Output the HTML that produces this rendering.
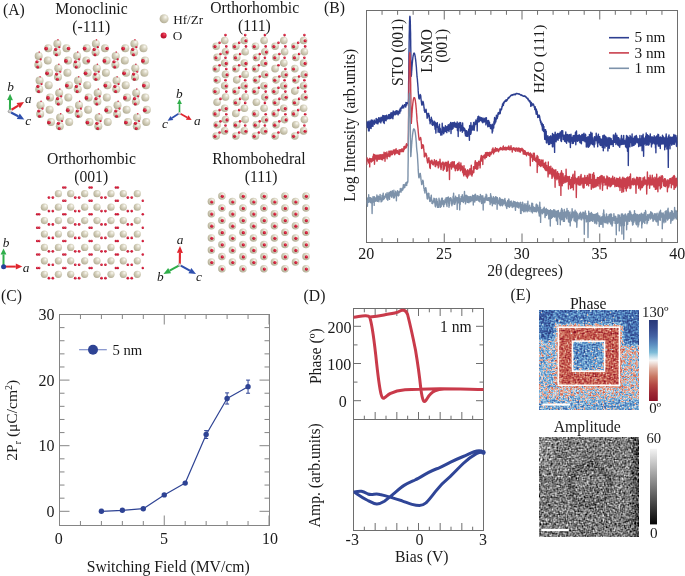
<!DOCTYPE html>
<html><head><meta charset="utf-8"><style>
html,body{margin:0;padding:0;background:#fff;overflow:hidden;}
svg{display:block;will-change:transform;}
text{font-family:"Liberation Serif",serif;fill:#1a1a1a;}
</style></head><body>
<svg width="685" height="576" viewBox="0 0 685 576">
<rect width="685" height="576" fill="#fff"/>
<defs>
<radialGradient id="hf" cx="0.62" cy="0.36" r="0.72" fx="0.66" fy="0.3">
<stop offset="0" stop-color="#fbfaf4"/><stop offset="0.35" stop-color="#dcd8c6"/><stop offset="0.8" stop-color="#bdb8a0"/><stop offset="1" stop-color="#a9a48c"/>
</radialGradient>
<radialGradient id="ox" cx="0.6" cy="0.38" r="0.7" fx="0.65" fy="0.3">
<stop offset="0" stop-color="#ee5468"/><stop offset="0.45" stop-color="#d41c3a"/><stop offset="1" stop-color="#a80f28"/>
</radialGradient>
<radialGradient id="og" cx="0.6" cy="0.38" r="0.7">
<stop offset="0" stop-color="#e8e8e8"/><stop offset="1" stop-color="#909090"/>
</radialGradient>
</defs>
<text x="3.0" y="14.7" font-size="15.7">(A)</text>
<text x="324.0" y="12.5" font-size="15.7">(B)</text>
<text x="1.1" y="300.8" font-size="15.7">(C)</text>
<text x="303.6" y="300.5" font-size="15.7">(D)</text>
<text x="510.6" y="300.2" font-size="15.7">(E)</text>
<text x="91.5" y="13.6" font-size="15.7" text-anchor="middle">Monoclinic</text>
<text x="91.3" y="31.6" font-size="15.7" text-anchor="middle">(-111)</text>
<text x="254.7" y="13.4" font-size="15.7" text-anchor="middle">Orthorhombic</text>
<text x="254.4" y="31.4" font-size="15.7" text-anchor="middle">(111)</text>
<text x="91.5" y="163.7" font-size="15.7" text-anchor="middle">Orthorhombic</text>
<text x="91.2" y="181.7" font-size="15.7" text-anchor="middle">(001)</text>
<text x="258.9" y="164.0" font-size="15.7" text-anchor="middle">Rhombohedral</text>
<text x="261.1" y="181.8" font-size="15.7" text-anchor="middle">(111)</text>
<text x="173.2" y="24.0" font-size="13.2">Hf/Zr</text>
<text x="172.8" y="39.9" font-size="13.2">O</text>
<circle cx="164.10" cy="18.80" r="4.5" fill="url(#hf)"/>
<circle cx="163.60" cy="35.40" r="3.0" fill="url(#ox)"/>
<g><circle cx="57.37" cy="43.63" r="4.0" fill="url(#hf)"/><circle cx="95.88" cy="43.63" r="4.0" fill="url(#hf)"/><circle cx="134.38" cy="43.63" r="4.0" fill="url(#hf)"/><circle cx="48.25" cy="48.21" r="4.0" fill="url(#hf)"/><circle cx="66.50" cy="48.21" r="4.0" fill="url(#hf)"/><circle cx="86.75" cy="48.21" r="4.0" fill="url(#hf)"/><circle cx="105.00" cy="48.21" r="4.0" fill="url(#hf)"/><circle cx="125.26" cy="48.21" r="4.0" fill="url(#hf)"/><circle cx="143.50" cy="48.21" r="4.0" fill="url(#hf)"/><circle cx="57.07" cy="52.33" r="4.0" fill="url(#hf)"/><circle cx="95.58" cy="52.33" r="4.0" fill="url(#hf)"/><circle cx="134.08" cy="52.33" r="4.0" fill="url(#hf)"/><circle cx="38.67" cy="55.94" r="4.0" fill="url(#hf)"/><circle cx="77.17" cy="55.94" r="4.0" fill="url(#hf)"/><circle cx="115.68" cy="55.94" r="4.0" fill="url(#hf)"/><circle cx="47.79" cy="60.53" r="4.0" fill="url(#hf)"/><circle cx="68.05" cy="60.53" r="4.0" fill="url(#hf)"/><circle cx="86.30" cy="60.53" r="4.0" fill="url(#hf)"/><circle cx="106.55" cy="60.53" r="4.0" fill="url(#hf)"/><circle cx="124.80" cy="60.53" r="4.0" fill="url(#hf)"/><circle cx="145.05" cy="60.53" r="4.0" fill="url(#hf)"/><circle cx="38.37" cy="64.64" r="4.0" fill="url(#hf)"/><circle cx="76.87" cy="64.64" r="4.0" fill="url(#hf)"/><circle cx="115.38" cy="64.64" r="4.0" fill="url(#hf)"/><circle cx="58.28" cy="68.26" r="4.0" fill="url(#hf)"/><circle cx="96.79" cy="68.26" r="4.0" fill="url(#hf)"/><circle cx="135.29" cy="68.26" r="4.0" fill="url(#hf)"/><circle cx="49.16" cy="72.84" r="4.0" fill="url(#hf)"/><circle cx="67.41" cy="72.84" r="4.0" fill="url(#hf)"/><circle cx="87.66" cy="72.84" r="4.0" fill="url(#hf)"/><circle cx="105.91" cy="72.84" r="4.0" fill="url(#hf)"/><circle cx="126.17" cy="72.84" r="4.0" fill="url(#hf)"/><circle cx="144.42" cy="72.84" r="4.0" fill="url(#hf)"/><circle cx="57.98" cy="76.96" r="4.0" fill="url(#hf)"/><circle cx="96.49" cy="76.96" r="4.0" fill="url(#hf)"/><circle cx="134.99" cy="76.96" r="4.0" fill="url(#hf)"/><circle cx="39.58" cy="80.58" r="4.0" fill="url(#hf)"/><circle cx="78.08" cy="80.58" r="4.0" fill="url(#hf)"/><circle cx="116.59" cy="80.58" r="4.0" fill="url(#hf)"/><circle cx="48.70" cy="85.16" r="4.0" fill="url(#hf)"/><circle cx="68.96" cy="85.16" r="4.0" fill="url(#hf)"/><circle cx="87.21" cy="85.16" r="4.0" fill="url(#hf)"/><circle cx="107.46" cy="85.16" r="4.0" fill="url(#hf)"/><circle cx="125.71" cy="85.16" r="4.0" fill="url(#hf)"/><circle cx="145.97" cy="85.16" r="4.0" fill="url(#hf)"/><circle cx="39.28" cy="89.28" r="4.0" fill="url(#hf)"/><circle cx="77.78" cy="89.28" r="4.0" fill="url(#hf)"/><circle cx="116.29" cy="89.28" r="4.0" fill="url(#hf)"/><circle cx="59.20" cy="92.90" r="4.0" fill="url(#hf)"/><circle cx="97.70" cy="92.90" r="4.0" fill="url(#hf)"/><circle cx="136.20" cy="92.90" r="4.0" fill="url(#hf)"/><circle cx="50.07" cy="97.48" r="4.0" fill="url(#hf)"/><circle cx="68.32" cy="97.48" r="4.0" fill="url(#hf)"/><circle cx="88.58" cy="97.48" r="4.0" fill="url(#hf)"/><circle cx="106.82" cy="97.48" r="4.0" fill="url(#hf)"/><circle cx="127.08" cy="97.48" r="4.0" fill="url(#hf)"/><circle cx="145.33" cy="97.48" r="4.0" fill="url(#hf)"/><circle cx="58.90" cy="101.60" r="4.0" fill="url(#hf)"/><circle cx="97.40" cy="101.60" r="4.0" fill="url(#hf)"/><circle cx="135.90" cy="101.60" r="4.0" fill="url(#hf)"/><circle cx="40.49" cy="105.21" r="4.0" fill="url(#hf)"/><circle cx="79.00" cy="105.21" r="4.0" fill="url(#hf)"/><circle cx="117.50" cy="105.21" r="4.0" fill="url(#hf)"/><circle cx="49.62" cy="109.80" r="4.0" fill="url(#hf)"/><circle cx="69.87" cy="109.80" r="4.0" fill="url(#hf)"/><circle cx="88.12" cy="109.80" r="4.0" fill="url(#hf)"/><circle cx="108.38" cy="109.80" r="4.0" fill="url(#hf)"/><circle cx="126.62" cy="109.80" r="4.0" fill="url(#hf)"/><circle cx="146.88" cy="109.80" r="4.0" fill="url(#hf)"/><circle cx="40.19" cy="113.91" r="4.0" fill="url(#hf)"/><circle cx="78.70" cy="113.91" r="4.0" fill="url(#hf)"/><circle cx="117.20" cy="113.91" r="4.0" fill="url(#hf)"/><circle cx="60.11" cy="117.53" r="4.0" fill="url(#hf)"/><circle cx="98.61" cy="117.53" r="4.0" fill="url(#hf)"/><circle cx="137.12" cy="117.53" r="4.0" fill="url(#hf)"/><circle cx="50.99" cy="122.11" r="4.0" fill="url(#hf)"/><circle cx="69.23" cy="122.11" r="4.0" fill="url(#hf)"/><circle cx="89.49" cy="122.11" r="4.0" fill="url(#hf)"/><circle cx="107.74" cy="122.11" r="4.0" fill="url(#hf)"/><circle cx="127.99" cy="122.11" r="4.0" fill="url(#hf)"/><circle cx="146.24" cy="122.11" r="4.0" fill="url(#hf)"/><circle cx="59.81" cy="126.23" r="4.0" fill="url(#hf)"/><circle cx="98.31" cy="126.23" r="4.0" fill="url(#hf)"/><circle cx="136.82" cy="126.23" r="4.0" fill="url(#hf)"/><circle cx="55.67" cy="49.43" r="1.6" fill="url(#ox)"/><circle cx="56.47" cy="54.63" r="1.5" fill="url(#ox)"/><circle cx="59.37" cy="47.13" r="1.1" fill="url(#ox)"/><circle cx="57.97" cy="39.73" r="0.75" fill="url(#ox)"/><circle cx="46.15" cy="48.61" r="1.85" fill="url(#ox)"/><circle cx="68.50" cy="48.61" r="1.75" fill="url(#ox)"/><circle cx="94.18" cy="49.43" r="1.6" fill="url(#ox)"/><circle cx="94.98" cy="54.63" r="1.5" fill="url(#ox)"/><circle cx="97.88" cy="47.13" r="1.1" fill="url(#ox)"/><circle cx="96.48" cy="39.73" r="0.75" fill="url(#ox)"/><circle cx="84.65" cy="48.61" r="1.85" fill="url(#ox)"/><circle cx="107.00" cy="48.61" r="1.75" fill="url(#ox)"/><circle cx="132.68" cy="49.43" r="1.6" fill="url(#ox)"/><circle cx="133.48" cy="54.63" r="1.5" fill="url(#ox)"/><circle cx="136.38" cy="47.13" r="1.1" fill="url(#ox)"/><circle cx="134.98" cy="39.73" r="0.75" fill="url(#ox)"/><circle cx="123.16" cy="48.61" r="1.85" fill="url(#ox)"/><circle cx="36.97" cy="61.74" r="1.6" fill="url(#ox)"/><circle cx="37.77" cy="66.94" r="1.5" fill="url(#ox)"/><circle cx="40.67" cy="59.44" r="1.1" fill="url(#ox)"/><circle cx="39.27" cy="52.04" r="0.75" fill="url(#ox)"/><circle cx="75.47" cy="61.74" r="1.6" fill="url(#ox)"/><circle cx="76.27" cy="66.94" r="1.5" fill="url(#ox)"/><circle cx="79.17" cy="59.44" r="1.1" fill="url(#ox)"/><circle cx="77.77" cy="52.04" r="0.75" fill="url(#ox)"/><circle cx="65.95" cy="60.93" r="1.85" fill="url(#ox)"/><circle cx="88.30" cy="60.93" r="1.75" fill="url(#ox)"/><circle cx="113.98" cy="61.74" r="1.6" fill="url(#ox)"/><circle cx="114.78" cy="66.94" r="1.5" fill="url(#ox)"/><circle cx="117.68" cy="59.44" r="1.1" fill="url(#ox)"/><circle cx="116.28" cy="52.04" r="0.75" fill="url(#ox)"/><circle cx="104.45" cy="60.93" r="1.85" fill="url(#ox)"/><circle cx="142.95" cy="60.93" r="1.85" fill="url(#ox)"/><circle cx="56.58" cy="74.06" r="1.6" fill="url(#ox)"/><circle cx="57.38" cy="79.26" r="1.5" fill="url(#ox)"/><circle cx="60.28" cy="71.76" r="1.1" fill="url(#ox)"/><circle cx="58.88" cy="64.36" r="0.75" fill="url(#ox)"/><circle cx="47.06" cy="73.24" r="1.85" fill="url(#ox)"/><circle cx="95.09" cy="74.06" r="1.6" fill="url(#ox)"/><circle cx="95.89" cy="79.26" r="1.5" fill="url(#ox)"/><circle cx="98.79" cy="71.76" r="1.1" fill="url(#ox)"/><circle cx="97.39" cy="64.36" r="0.75" fill="url(#ox)"/><circle cx="85.56" cy="73.24" r="1.85" fill="url(#ox)"/><circle cx="133.59" cy="74.06" r="1.6" fill="url(#ox)"/><circle cx="134.39" cy="79.26" r="1.5" fill="url(#ox)"/><circle cx="137.29" cy="71.76" r="1.1" fill="url(#ox)"/><circle cx="135.89" cy="64.36" r="0.75" fill="url(#ox)"/><circle cx="124.07" cy="73.24" r="1.85" fill="url(#ox)"/><circle cx="37.88" cy="86.38" r="1.6" fill="url(#ox)"/><circle cx="38.68" cy="91.58" r="1.5" fill="url(#ox)"/><circle cx="41.58" cy="84.08" r="1.1" fill="url(#ox)"/><circle cx="40.18" cy="76.68" r="0.75" fill="url(#ox)"/><circle cx="76.38" cy="86.38" r="1.6" fill="url(#ox)"/><circle cx="77.18" cy="91.58" r="1.5" fill="url(#ox)"/><circle cx="80.08" cy="84.08" r="1.1" fill="url(#ox)"/><circle cx="78.68" cy="76.68" r="0.75" fill="url(#ox)"/><circle cx="66.86" cy="85.56" r="1.85" fill="url(#ox)"/><circle cx="114.89" cy="86.38" r="1.6" fill="url(#ox)"/><circle cx="115.69" cy="91.58" r="1.5" fill="url(#ox)"/><circle cx="118.59" cy="84.08" r="1.1" fill="url(#ox)"/><circle cx="117.19" cy="76.68" r="0.75" fill="url(#ox)"/><circle cx="105.36" cy="85.56" r="1.85" fill="url(#ox)"/><circle cx="143.87" cy="85.56" r="1.85" fill="url(#ox)"/><circle cx="57.50" cy="98.70" r="1.6" fill="url(#ox)"/><circle cx="58.30" cy="103.90" r="1.5" fill="url(#ox)"/><circle cx="61.20" cy="96.40" r="1.1" fill="url(#ox)"/><circle cx="59.80" cy="89.00" r="0.75" fill="url(#ox)"/><circle cx="47.97" cy="97.88" r="1.85" fill="url(#ox)"/><circle cx="96.00" cy="98.70" r="1.6" fill="url(#ox)"/><circle cx="96.80" cy="103.90" r="1.5" fill="url(#ox)"/><circle cx="99.70" cy="96.40" r="1.1" fill="url(#ox)"/><circle cx="98.30" cy="89.00" r="0.75" fill="url(#ox)"/><circle cx="86.48" cy="97.88" r="1.85" fill="url(#ox)"/><circle cx="134.50" cy="98.70" r="1.6" fill="url(#ox)"/><circle cx="135.30" cy="103.90" r="1.5" fill="url(#ox)"/><circle cx="138.20" cy="96.40" r="1.1" fill="url(#ox)"/><circle cx="136.80" cy="89.00" r="0.75" fill="url(#ox)"/><circle cx="124.98" cy="97.88" r="1.85" fill="url(#ox)"/><circle cx="38.79" cy="111.01" r="1.6" fill="url(#ox)"/><circle cx="39.59" cy="116.21" r="1.5" fill="url(#ox)"/><circle cx="42.49" cy="108.71" r="1.1" fill="url(#ox)"/><circle cx="41.09" cy="101.31" r="0.75" fill="url(#ox)"/><circle cx="77.30" cy="111.01" r="1.6" fill="url(#ox)"/><circle cx="78.10" cy="116.21" r="1.5" fill="url(#ox)"/><circle cx="81.00" cy="108.71" r="1.1" fill="url(#ox)"/><circle cx="79.60" cy="101.31" r="0.75" fill="url(#ox)"/><circle cx="67.77" cy="110.20" r="1.85" fill="url(#ox)"/><circle cx="115.80" cy="111.01" r="1.6" fill="url(#ox)"/><circle cx="116.60" cy="116.21" r="1.5" fill="url(#ox)"/><circle cx="119.50" cy="108.71" r="1.1" fill="url(#ox)"/><circle cx="118.10" cy="101.31" r="0.75" fill="url(#ox)"/><circle cx="106.28" cy="110.20" r="1.85" fill="url(#ox)"/><circle cx="144.78" cy="110.20" r="1.85" fill="url(#ox)"/><circle cx="58.41" cy="123.33" r="1.6" fill="url(#ox)"/><circle cx="59.21" cy="128.53" r="1.5" fill="url(#ox)"/><circle cx="62.11" cy="121.03" r="1.1" fill="url(#ox)"/><circle cx="60.71" cy="113.63" r="0.75" fill="url(#ox)"/><circle cx="48.89" cy="122.51" r="1.85" fill="url(#ox)"/><circle cx="96.91" cy="123.33" r="1.6" fill="url(#ox)"/><circle cx="97.71" cy="128.53" r="1.5" fill="url(#ox)"/><circle cx="100.61" cy="121.03" r="1.1" fill="url(#ox)"/><circle cx="99.21" cy="113.63" r="0.75" fill="url(#ox)"/><circle cx="87.39" cy="122.51" r="1.85" fill="url(#ox)"/><circle cx="135.42" cy="123.33" r="1.6" fill="url(#ox)"/><circle cx="136.22" cy="128.53" r="1.5" fill="url(#ox)"/><circle cx="139.12" cy="121.03" r="1.1" fill="url(#ox)"/><circle cx="137.72" cy="113.63" r="0.75" fill="url(#ox)"/><circle cx="125.89" cy="122.51" r="1.85" fill="url(#ox)"/></g>
<g><circle cx="216.20" cy="46.20" r="3.8" fill="url(#hf)"/><circle cx="224.70" cy="40.50" r="3.8" fill="url(#hf)"/><circle cx="217.10" cy="57.42" r="3.8" fill="url(#hf)"/><circle cx="225.50" cy="51.80" r="3.8" fill="url(#hf)"/><circle cx="216.20" cy="68.64" r="3.8" fill="url(#hf)"/><circle cx="224.70" cy="63.10" r="3.8" fill="url(#hf)"/><circle cx="217.10" cy="79.86" r="3.8" fill="url(#hf)"/><circle cx="225.50" cy="74.40" r="3.8" fill="url(#hf)"/><circle cx="216.20" cy="91.08" r="3.8" fill="url(#hf)"/><circle cx="224.70" cy="85.70" r="3.8" fill="url(#hf)"/><circle cx="217.10" cy="102.30" r="3.8" fill="url(#hf)"/><circle cx="225.50" cy="97.00" r="3.8" fill="url(#hf)"/><circle cx="216.20" cy="113.52" r="3.8" fill="url(#hf)"/><circle cx="224.70" cy="108.30" r="3.8" fill="url(#hf)"/><circle cx="217.10" cy="124.74" r="3.8" fill="url(#hf)"/><circle cx="225.50" cy="119.60" r="3.8" fill="url(#hf)"/><circle cx="216.20" cy="135.96" r="3.8" fill="url(#hf)"/><circle cx="224.70" cy="130.90" r="3.8" fill="url(#hf)"/><circle cx="235.80" cy="46.20" r="3.8" fill="url(#hf)"/><circle cx="244.40" cy="40.50" r="3.8" fill="url(#hf)"/><circle cx="236.70" cy="57.42" r="3.8" fill="url(#hf)"/><circle cx="245.20" cy="51.80" r="3.8" fill="url(#hf)"/><circle cx="235.80" cy="68.64" r="3.8" fill="url(#hf)"/><circle cx="244.40" cy="63.10" r="3.8" fill="url(#hf)"/><circle cx="236.70" cy="79.86" r="3.8" fill="url(#hf)"/><circle cx="245.20" cy="74.40" r="3.8" fill="url(#hf)"/><circle cx="235.80" cy="91.08" r="3.8" fill="url(#hf)"/><circle cx="244.40" cy="85.70" r="3.8" fill="url(#hf)"/><circle cx="236.70" cy="102.30" r="3.8" fill="url(#hf)"/><circle cx="245.20" cy="97.00" r="3.8" fill="url(#hf)"/><circle cx="235.80" cy="113.52" r="3.8" fill="url(#hf)"/><circle cx="244.40" cy="108.30" r="3.8" fill="url(#hf)"/><circle cx="236.70" cy="124.74" r="3.8" fill="url(#hf)"/><circle cx="245.20" cy="119.60" r="3.8" fill="url(#hf)"/><circle cx="235.80" cy="135.96" r="3.8" fill="url(#hf)"/><circle cx="244.40" cy="130.90" r="3.8" fill="url(#hf)"/><circle cx="255.50" cy="46.20" r="3.8" fill="url(#hf)"/><circle cx="264.10" cy="40.50" r="3.8" fill="url(#hf)"/><circle cx="256.40" cy="57.42" r="3.8" fill="url(#hf)"/><circle cx="264.90" cy="51.80" r="3.8" fill="url(#hf)"/><circle cx="255.50" cy="68.64" r="3.8" fill="url(#hf)"/><circle cx="264.10" cy="63.10" r="3.8" fill="url(#hf)"/><circle cx="256.40" cy="79.86" r="3.8" fill="url(#hf)"/><circle cx="264.90" cy="74.40" r="3.8" fill="url(#hf)"/><circle cx="255.50" cy="91.08" r="3.8" fill="url(#hf)"/><circle cx="264.10" cy="85.70" r="3.8" fill="url(#hf)"/><circle cx="256.40" cy="102.30" r="3.8" fill="url(#hf)"/><circle cx="264.90" cy="97.00" r="3.8" fill="url(#hf)"/><circle cx="255.50" cy="113.52" r="3.8" fill="url(#hf)"/><circle cx="264.10" cy="108.30" r="3.8" fill="url(#hf)"/><circle cx="256.40" cy="124.74" r="3.8" fill="url(#hf)"/><circle cx="264.90" cy="119.60" r="3.8" fill="url(#hf)"/><circle cx="255.50" cy="135.96" r="3.8" fill="url(#hf)"/><circle cx="264.10" cy="130.90" r="3.8" fill="url(#hf)"/><circle cx="275.10" cy="46.20" r="3.8" fill="url(#hf)"/><circle cx="283.80" cy="40.50" r="3.8" fill="url(#hf)"/><circle cx="276.00" cy="57.42" r="3.8" fill="url(#hf)"/><circle cx="284.60" cy="51.80" r="3.8" fill="url(#hf)"/><circle cx="275.10" cy="68.64" r="3.8" fill="url(#hf)"/><circle cx="283.80" cy="63.10" r="3.8" fill="url(#hf)"/><circle cx="276.00" cy="79.86" r="3.8" fill="url(#hf)"/><circle cx="284.60" cy="74.40" r="3.8" fill="url(#hf)"/><circle cx="275.10" cy="91.08" r="3.8" fill="url(#hf)"/><circle cx="283.80" cy="85.70" r="3.8" fill="url(#hf)"/><circle cx="276.00" cy="102.30" r="3.8" fill="url(#hf)"/><circle cx="284.60" cy="97.00" r="3.8" fill="url(#hf)"/><circle cx="275.10" cy="113.52" r="3.8" fill="url(#hf)"/><circle cx="283.80" cy="108.30" r="3.8" fill="url(#hf)"/><circle cx="276.00" cy="124.74" r="3.8" fill="url(#hf)"/><circle cx="284.60" cy="119.60" r="3.8" fill="url(#hf)"/><circle cx="275.10" cy="135.96" r="3.8" fill="url(#hf)"/><circle cx="283.80" cy="130.90" r="3.8" fill="url(#hf)"/><circle cx="294.80" cy="46.20" r="3.8" fill="url(#hf)"/><circle cx="303.60" cy="40.50" r="3.8" fill="url(#hf)"/><circle cx="295.70" cy="57.42" r="3.8" fill="url(#hf)"/><circle cx="304.40" cy="51.80" r="3.8" fill="url(#hf)"/><circle cx="294.80" cy="68.64" r="3.8" fill="url(#hf)"/><circle cx="303.60" cy="63.10" r="3.8" fill="url(#hf)"/><circle cx="295.70" cy="79.86" r="3.8" fill="url(#hf)"/><circle cx="304.40" cy="74.40" r="3.8" fill="url(#hf)"/><circle cx="294.80" cy="91.08" r="3.8" fill="url(#hf)"/><circle cx="303.60" cy="85.70" r="3.8" fill="url(#hf)"/><circle cx="295.70" cy="102.30" r="3.8" fill="url(#hf)"/><circle cx="304.40" cy="97.00" r="3.8" fill="url(#hf)"/><circle cx="294.80" cy="113.52" r="3.8" fill="url(#hf)"/><circle cx="303.60" cy="108.30" r="3.8" fill="url(#hf)"/><circle cx="295.70" cy="124.74" r="3.8" fill="url(#hf)"/><circle cx="304.40" cy="119.60" r="3.8" fill="url(#hf)"/><circle cx="294.80" cy="135.96" r="3.8" fill="url(#hf)"/><circle cx="303.60" cy="130.90" r="3.8" fill="url(#hf)"/><circle cx="215.00" cy="46.60" r="1.55" fill="url(#ox)"/><circle cx="219.60" cy="42.80" r="1.3" fill="url(#ox)"/><circle cx="225.50" cy="35.10" r="1.3" fill="url(#ox)"/><circle cx="215.90" cy="57.82" r="1.55" fill="url(#ox)"/><circle cx="220.50" cy="54.02" r="1.3" fill="url(#ox)"/><circle cx="227.00" cy="52.10" r="1.55" fill="url(#ox)"/><circle cx="226.30" cy="46.40" r="1.3" fill="url(#ox)"/><circle cx="215.00" cy="69.04" r="1.55" fill="url(#ox)"/><circle cx="219.60" cy="65.24" r="1.3" fill="url(#ox)"/><circle cx="226.20" cy="63.40" r="1.55" fill="url(#ox)"/><circle cx="225.50" cy="57.70" r="1.3" fill="url(#ox)"/><circle cx="215.90" cy="80.26" r="1.55" fill="url(#ox)"/><circle cx="227.00" cy="74.70" r="1.55" fill="url(#ox)"/><circle cx="226.30" cy="69.00" r="1.3" fill="url(#ox)"/><circle cx="215.00" cy="91.48" r="1.55" fill="url(#ox)"/><circle cx="226.20" cy="86.00" r="1.55" fill="url(#ox)"/><circle cx="225.50" cy="80.30" r="1.3" fill="url(#ox)"/><circle cx="220.50" cy="98.90" r="1.3" fill="url(#ox)"/><circle cx="226.30" cy="91.60" r="1.3" fill="url(#ox)"/><circle cx="215.00" cy="113.92" r="1.55" fill="url(#ox)"/><circle cx="219.60" cy="110.12" r="1.3" fill="url(#ox)"/><circle cx="226.20" cy="108.60" r="1.55" fill="url(#ox)"/><circle cx="215.90" cy="125.14" r="1.55" fill="url(#ox)"/><circle cx="220.50" cy="121.34" r="1.3" fill="url(#ox)"/><circle cx="227.00" cy="119.90" r="1.55" fill="url(#ox)"/><circle cx="226.30" cy="114.20" r="1.3" fill="url(#ox)"/><circle cx="215.00" cy="136.36" r="1.55" fill="url(#ox)"/><circle cx="219.60" cy="132.56" r="1.3" fill="url(#ox)"/><circle cx="226.20" cy="131.20" r="1.55" fill="url(#ox)"/><circle cx="225.50" cy="125.50" r="1.3" fill="url(#ox)"/><circle cx="234.60" cy="46.60" r="1.55" fill="url(#ox)"/><circle cx="239.20" cy="42.80" r="1.3" fill="url(#ox)"/><circle cx="245.90" cy="40.80" r="1.55" fill="url(#ox)"/><circle cx="245.20" cy="35.10" r="1.3" fill="url(#ox)"/><circle cx="235.50" cy="57.82" r="1.55" fill="url(#ox)"/><circle cx="240.10" cy="54.02" r="1.3" fill="url(#ox)"/><circle cx="246.00" cy="46.40" r="1.3" fill="url(#ox)"/><circle cx="234.60" cy="69.04" r="1.55" fill="url(#ox)"/><circle cx="239.20" cy="65.24" r="1.3" fill="url(#ox)"/><circle cx="245.90" cy="63.40" r="1.55" fill="url(#ox)"/><circle cx="240.10" cy="76.46" r="1.3" fill="url(#ox)"/><circle cx="246.00" cy="69.00" r="1.3" fill="url(#ox)"/><circle cx="234.60" cy="91.48" r="1.55" fill="url(#ox)"/><circle cx="239.20" cy="87.68" r="1.3" fill="url(#ox)"/><circle cx="245.90" cy="86.00" r="1.55" fill="url(#ox)"/><circle cx="245.20" cy="80.30" r="1.3" fill="url(#ox)"/><circle cx="235.50" cy="102.70" r="1.55" fill="url(#ox)"/><circle cx="240.10" cy="98.90" r="1.3" fill="url(#ox)"/><circle cx="246.00" cy="91.60" r="1.3" fill="url(#ox)"/><circle cx="239.20" cy="110.12" r="1.3" fill="url(#ox)"/><circle cx="245.20" cy="102.90" r="1.3" fill="url(#ox)"/><circle cx="235.50" cy="125.14" r="1.55" fill="url(#ox)"/><circle cx="240.10" cy="121.34" r="1.3" fill="url(#ox)"/><circle cx="234.60" cy="136.36" r="1.55" fill="url(#ox)"/><circle cx="239.20" cy="132.56" r="1.3" fill="url(#ox)"/><circle cx="245.90" cy="131.20" r="1.55" fill="url(#ox)"/><circle cx="245.20" cy="125.50" r="1.3" fill="url(#ox)"/><circle cx="254.30" cy="46.60" r="1.55" fill="url(#ox)"/><circle cx="264.90" cy="35.10" r="1.3" fill="url(#ox)"/><circle cx="255.20" cy="57.82" r="1.55" fill="url(#ox)"/><circle cx="259.80" cy="54.02" r="1.3" fill="url(#ox)"/><circle cx="266.40" cy="52.10" r="1.55" fill="url(#ox)"/><circle cx="265.70" cy="46.40" r="1.3" fill="url(#ox)"/><circle cx="254.30" cy="69.04" r="1.55" fill="url(#ox)"/><circle cx="258.90" cy="65.24" r="1.3" fill="url(#ox)"/><circle cx="265.60" cy="63.40" r="1.55" fill="url(#ox)"/><circle cx="264.90" cy="57.70" r="1.3" fill="url(#ox)"/><circle cx="255.20" cy="80.26" r="1.55" fill="url(#ox)"/><circle cx="259.80" cy="76.46" r="1.3" fill="url(#ox)"/><circle cx="266.40" cy="74.70" r="1.55" fill="url(#ox)"/><circle cx="254.30" cy="91.48" r="1.55" fill="url(#ox)"/><circle cx="258.90" cy="87.68" r="1.3" fill="url(#ox)"/><circle cx="265.60" cy="86.00" r="1.55" fill="url(#ox)"/><circle cx="266.40" cy="97.30" r="1.55" fill="url(#ox)"/><circle cx="265.70" cy="91.60" r="1.3" fill="url(#ox)"/><circle cx="254.30" cy="113.92" r="1.55" fill="url(#ox)"/><circle cx="264.90" cy="102.90" r="1.3" fill="url(#ox)"/><circle cx="255.20" cy="125.14" r="1.55" fill="url(#ox)"/><circle cx="259.80" cy="121.34" r="1.3" fill="url(#ox)"/><circle cx="266.40" cy="119.90" r="1.55" fill="url(#ox)"/><circle cx="265.70" cy="114.20" r="1.3" fill="url(#ox)"/><circle cx="254.30" cy="136.36" r="1.55" fill="url(#ox)"/><circle cx="258.90" cy="132.56" r="1.3" fill="url(#ox)"/><circle cx="265.60" cy="131.20" r="1.55" fill="url(#ox)"/><circle cx="264.90" cy="125.50" r="1.3" fill="url(#ox)"/><circle cx="273.90" cy="46.60" r="1.55" fill="url(#ox)"/><circle cx="278.50" cy="42.80" r="1.3" fill="url(#ox)"/><circle cx="284.60" cy="35.10" r="1.3" fill="url(#ox)"/><circle cx="274.80" cy="57.82" r="1.55" fill="url(#ox)"/><circle cx="279.40" cy="54.02" r="1.3" fill="url(#ox)"/><circle cx="285.40" cy="46.40" r="1.3" fill="url(#ox)"/><circle cx="278.50" cy="65.24" r="1.3" fill="url(#ox)"/><circle cx="284.60" cy="57.70" r="1.3" fill="url(#ox)"/><circle cx="274.80" cy="80.26" r="1.55" fill="url(#ox)"/><circle cx="279.40" cy="76.46" r="1.3" fill="url(#ox)"/><circle cx="286.10" cy="74.70" r="1.55" fill="url(#ox)"/><circle cx="285.40" cy="69.00" r="1.3" fill="url(#ox)"/><circle cx="273.90" cy="91.48" r="1.55" fill="url(#ox)"/><circle cx="278.50" cy="87.68" r="1.3" fill="url(#ox)"/><circle cx="285.30" cy="86.00" r="1.55" fill="url(#ox)"/><circle cx="284.60" cy="80.30" r="1.3" fill="url(#ox)"/><circle cx="274.80" cy="102.70" r="1.55" fill="url(#ox)"/><circle cx="279.40" cy="98.90" r="1.3" fill="url(#ox)"/><circle cx="286.10" cy="97.30" r="1.55" fill="url(#ox)"/><circle cx="285.40" cy="91.60" r="1.3" fill="url(#ox)"/><circle cx="273.90" cy="113.92" r="1.55" fill="url(#ox)"/><circle cx="278.50" cy="110.12" r="1.3" fill="url(#ox)"/><circle cx="285.30" cy="108.60" r="1.55" fill="url(#ox)"/><circle cx="274.80" cy="125.14" r="1.55" fill="url(#ox)"/><circle cx="279.40" cy="121.34" r="1.3" fill="url(#ox)"/><circle cx="286.10" cy="119.90" r="1.55" fill="url(#ox)"/><circle cx="285.40" cy="114.20" r="1.3" fill="url(#ox)"/><circle cx="273.90" cy="136.36" r="1.55" fill="url(#ox)"/><circle cx="278.50" cy="132.56" r="1.3" fill="url(#ox)"/><circle cx="293.60" cy="46.60" r="1.55" fill="url(#ox)"/><circle cx="298.20" cy="42.80" r="1.3" fill="url(#ox)"/><circle cx="305.10" cy="40.80" r="1.55" fill="url(#ox)"/><circle cx="304.40" cy="35.10" r="1.3" fill="url(#ox)"/><circle cx="294.50" cy="57.82" r="1.55" fill="url(#ox)"/><circle cx="299.10" cy="54.02" r="1.3" fill="url(#ox)"/><circle cx="305.20" cy="46.40" r="1.3" fill="url(#ox)"/><circle cx="293.60" cy="69.04" r="1.55" fill="url(#ox)"/><circle cx="305.10" cy="63.40" r="1.55" fill="url(#ox)"/><circle cx="304.40" cy="57.70" r="1.3" fill="url(#ox)"/><circle cx="294.50" cy="80.26" r="1.55" fill="url(#ox)"/><circle cx="299.10" cy="76.46" r="1.3" fill="url(#ox)"/><circle cx="305.90" cy="74.70" r="1.55" fill="url(#ox)"/><circle cx="298.20" cy="87.68" r="1.3" fill="url(#ox)"/><circle cx="305.10" cy="86.00" r="1.55" fill="url(#ox)"/><circle cx="304.40" cy="80.30" r="1.3" fill="url(#ox)"/><circle cx="294.50" cy="102.70" r="1.55" fill="url(#ox)"/><circle cx="299.10" cy="98.90" r="1.3" fill="url(#ox)"/><circle cx="305.90" cy="97.30" r="1.55" fill="url(#ox)"/><circle cx="305.20" cy="91.60" r="1.3" fill="url(#ox)"/><circle cx="293.60" cy="113.92" r="1.55" fill="url(#ox)"/><circle cx="298.20" cy="110.12" r="1.3" fill="url(#ox)"/><circle cx="305.20" cy="114.20" r="1.3" fill="url(#ox)"/><circle cx="293.60" cy="136.36" r="1.55" fill="url(#ox)"/><circle cx="298.20" cy="132.56" r="1.3" fill="url(#ox)"/><circle cx="305.10" cy="131.20" r="1.55" fill="url(#ox)"/><circle cx="304.40" cy="125.50" r="1.3" fill="url(#ox)"/></g>
<g><circle cx="58.40" cy="193.70" r="3.6" fill="url(#hf)"/><circle cx="70.70" cy="193.70" r="3.6" fill="url(#hf)"/><circle cx="84.70" cy="193.70" r="3.6" fill="url(#hf)"/><circle cx="97.00" cy="193.70" r="3.6" fill="url(#hf)"/><circle cx="111.00" cy="193.70" r="3.6" fill="url(#hf)"/><circle cx="123.30" cy="193.70" r="3.6" fill="url(#hf)"/><circle cx="137.30" cy="193.70" r="3.6" fill="url(#hf)"/><circle cx="44.40" cy="207.13" r="3.6" fill="url(#hf)"/><circle cx="58.40" cy="207.13" r="3.6" fill="url(#hf)"/><circle cx="70.70" cy="207.13" r="3.6" fill="url(#hf)"/><circle cx="84.70" cy="207.13" r="3.6" fill="url(#hf)"/><circle cx="97.00" cy="207.13" r="3.6" fill="url(#hf)"/><circle cx="111.00" cy="207.13" r="3.6" fill="url(#hf)"/><circle cx="123.30" cy="207.13" r="3.6" fill="url(#hf)"/><circle cx="137.30" cy="207.13" r="3.6" fill="url(#hf)"/><circle cx="44.40" cy="220.56" r="3.6" fill="url(#hf)"/><circle cx="58.40" cy="220.56" r="3.6" fill="url(#hf)"/><circle cx="70.70" cy="220.56" r="3.6" fill="url(#hf)"/><circle cx="84.70" cy="220.56" r="3.6" fill="url(#hf)"/><circle cx="97.00" cy="220.56" r="3.6" fill="url(#hf)"/><circle cx="111.00" cy="220.56" r="3.6" fill="url(#hf)"/><circle cx="123.30" cy="220.56" r="3.6" fill="url(#hf)"/><circle cx="137.30" cy="220.56" r="3.6" fill="url(#hf)"/><circle cx="44.40" cy="233.99" r="3.6" fill="url(#hf)"/><circle cx="58.40" cy="233.99" r="3.6" fill="url(#hf)"/><circle cx="70.70" cy="233.99" r="3.6" fill="url(#hf)"/><circle cx="84.70" cy="233.99" r="3.6" fill="url(#hf)"/><circle cx="97.00" cy="233.99" r="3.6" fill="url(#hf)"/><circle cx="111.00" cy="233.99" r="3.6" fill="url(#hf)"/><circle cx="123.30" cy="233.99" r="3.6" fill="url(#hf)"/><circle cx="137.30" cy="233.99" r="3.6" fill="url(#hf)"/><circle cx="44.40" cy="247.42" r="3.6" fill="url(#hf)"/><circle cx="58.40" cy="247.42" r="3.6" fill="url(#hf)"/><circle cx="70.70" cy="247.42" r="3.6" fill="url(#hf)"/><circle cx="84.70" cy="247.42" r="3.6" fill="url(#hf)"/><circle cx="97.00" cy="247.42" r="3.6" fill="url(#hf)"/><circle cx="111.00" cy="247.42" r="3.6" fill="url(#hf)"/><circle cx="123.30" cy="247.42" r="3.6" fill="url(#hf)"/><circle cx="137.30" cy="247.42" r="3.6" fill="url(#hf)"/><circle cx="44.40" cy="260.85" r="3.6" fill="url(#hf)"/><circle cx="58.40" cy="260.85" r="3.6" fill="url(#hf)"/><circle cx="70.70" cy="260.85" r="3.6" fill="url(#hf)"/><circle cx="84.70" cy="260.85" r="3.6" fill="url(#hf)"/><circle cx="97.00" cy="260.85" r="3.6" fill="url(#hf)"/><circle cx="111.00" cy="260.85" r="3.6" fill="url(#hf)"/><circle cx="123.30" cy="260.85" r="3.6" fill="url(#hf)"/><circle cx="137.30" cy="260.85" r="3.6" fill="url(#hf)"/><circle cx="44.40" cy="274.28" r="3.6" fill="url(#hf)"/><circle cx="58.40" cy="274.28" r="3.6" fill="url(#hf)"/><circle cx="70.70" cy="274.28" r="3.6" fill="url(#hf)"/><circle cx="84.70" cy="274.28" r="3.6" fill="url(#hf)"/><circle cx="97.00" cy="274.28" r="3.6" fill="url(#hf)"/><circle cx="111.00" cy="274.28" r="3.6" fill="url(#hf)"/><circle cx="123.30" cy="274.28" r="3.6" fill="url(#hf)"/><circle cx="137.30" cy="274.28" r="3.6" fill="url(#hf)"/><circle cx="48.95" cy="197.60" r="1.35" fill="url(#ox)"/><circle cx="52.85" cy="197.60" r="1.35" fill="url(#ox)"/><circle cx="75.25" cy="197.60" r="1.35" fill="url(#ox)"/><circle cx="79.15" cy="197.60" r="1.35" fill="url(#ox)"/><circle cx="101.55" cy="197.60" r="1.35" fill="url(#ox)"/><circle cx="105.45" cy="197.60" r="1.35" fill="url(#ox)"/><circle cx="127.85" cy="197.60" r="1.35" fill="url(#ox)"/><circle cx="131.75" cy="197.60" r="1.35" fill="url(#ox)"/><circle cx="63.30" cy="187.40" r="1.25" fill="url(#ox)"/><circle cx="65.30" cy="187.40" r="1.25" fill="url(#ox)"/><circle cx="89.60" cy="187.40" r="1.25" fill="url(#ox)"/><circle cx="91.60" cy="187.40" r="1.25" fill="url(#ox)"/><circle cx="115.90" cy="187.40" r="1.25" fill="url(#ox)"/><circle cx="117.90" cy="187.40" r="1.25" fill="url(#ox)"/><circle cx="48.95" cy="211.03" r="1.35" fill="url(#ox)"/><circle cx="52.85" cy="211.03" r="1.35" fill="url(#ox)"/><circle cx="75.25" cy="211.03" r="1.35" fill="url(#ox)"/><circle cx="79.15" cy="211.03" r="1.35" fill="url(#ox)"/><circle cx="101.55" cy="211.03" r="1.35" fill="url(#ox)"/><circle cx="105.45" cy="211.03" r="1.35" fill="url(#ox)"/><circle cx="127.85" cy="211.03" r="1.35" fill="url(#ox)"/><circle cx="131.75" cy="211.03" r="1.35" fill="url(#ox)"/><circle cx="63.30" cy="200.83" r="1.25" fill="url(#ox)"/><circle cx="65.30" cy="200.83" r="1.25" fill="url(#ox)"/><circle cx="89.60" cy="200.83" r="1.25" fill="url(#ox)"/><circle cx="91.60" cy="200.83" r="1.25" fill="url(#ox)"/><circle cx="115.90" cy="200.83" r="1.25" fill="url(#ox)"/><circle cx="117.90" cy="200.83" r="1.25" fill="url(#ox)"/><circle cx="142.80" cy="200.83" r="1.25" fill="url(#ox)"/><circle cx="48.95" cy="224.46" r="1.35" fill="url(#ox)"/><circle cx="52.85" cy="224.46" r="1.35" fill="url(#ox)"/><circle cx="75.25" cy="224.46" r="1.35" fill="url(#ox)"/><circle cx="79.15" cy="224.46" r="1.35" fill="url(#ox)"/><circle cx="101.55" cy="224.46" r="1.35" fill="url(#ox)"/><circle cx="105.45" cy="224.46" r="1.35" fill="url(#ox)"/><circle cx="127.85" cy="224.46" r="1.35" fill="url(#ox)"/><circle cx="131.75" cy="224.46" r="1.35" fill="url(#ox)"/><circle cx="63.30" cy="214.26" r="1.25" fill="url(#ox)"/><circle cx="65.30" cy="214.26" r="1.25" fill="url(#ox)"/><circle cx="89.60" cy="214.26" r="1.25" fill="url(#ox)"/><circle cx="91.60" cy="214.26" r="1.25" fill="url(#ox)"/><circle cx="115.90" cy="214.26" r="1.25" fill="url(#ox)"/><circle cx="117.90" cy="214.26" r="1.25" fill="url(#ox)"/><circle cx="37.20" cy="214.26" r="1.25" fill="url(#ox)"/><circle cx="39.20" cy="214.26" r="1.25" fill="url(#ox)"/><circle cx="142.80" cy="214.26" r="1.25" fill="url(#ox)"/><circle cx="48.95" cy="237.89" r="1.35" fill="url(#ox)"/><circle cx="52.85" cy="237.89" r="1.35" fill="url(#ox)"/><circle cx="75.25" cy="237.89" r="1.35" fill="url(#ox)"/><circle cx="79.15" cy="237.89" r="1.35" fill="url(#ox)"/><circle cx="101.55" cy="237.89" r="1.35" fill="url(#ox)"/><circle cx="105.45" cy="237.89" r="1.35" fill="url(#ox)"/><circle cx="127.85" cy="237.89" r="1.35" fill="url(#ox)"/><circle cx="131.75" cy="237.89" r="1.35" fill="url(#ox)"/><circle cx="63.30" cy="227.69" r="1.25" fill="url(#ox)"/><circle cx="65.30" cy="227.69" r="1.25" fill="url(#ox)"/><circle cx="89.60" cy="227.69" r="1.25" fill="url(#ox)"/><circle cx="91.60" cy="227.69" r="1.25" fill="url(#ox)"/><circle cx="115.90" cy="227.69" r="1.25" fill="url(#ox)"/><circle cx="117.90" cy="227.69" r="1.25" fill="url(#ox)"/><circle cx="37.20" cy="227.69" r="1.25" fill="url(#ox)"/><circle cx="39.20" cy="227.69" r="1.25" fill="url(#ox)"/><circle cx="142.80" cy="227.69" r="1.25" fill="url(#ox)"/><circle cx="48.95" cy="251.32" r="1.35" fill="url(#ox)"/><circle cx="52.85" cy="251.32" r="1.35" fill="url(#ox)"/><circle cx="75.25" cy="251.32" r="1.35" fill="url(#ox)"/><circle cx="79.15" cy="251.32" r="1.35" fill="url(#ox)"/><circle cx="101.55" cy="251.32" r="1.35" fill="url(#ox)"/><circle cx="105.45" cy="251.32" r="1.35" fill="url(#ox)"/><circle cx="127.85" cy="251.32" r="1.35" fill="url(#ox)"/><circle cx="131.75" cy="251.32" r="1.35" fill="url(#ox)"/><circle cx="63.30" cy="241.12" r="1.25" fill="url(#ox)"/><circle cx="65.30" cy="241.12" r="1.25" fill="url(#ox)"/><circle cx="89.60" cy="241.12" r="1.25" fill="url(#ox)"/><circle cx="91.60" cy="241.12" r="1.25" fill="url(#ox)"/><circle cx="115.90" cy="241.12" r="1.25" fill="url(#ox)"/><circle cx="117.90" cy="241.12" r="1.25" fill="url(#ox)"/><circle cx="37.20" cy="241.12" r="1.25" fill="url(#ox)"/><circle cx="39.20" cy="241.12" r="1.25" fill="url(#ox)"/><circle cx="142.80" cy="241.12" r="1.25" fill="url(#ox)"/><circle cx="48.95" cy="264.75" r="1.35" fill="url(#ox)"/><circle cx="52.85" cy="264.75" r="1.35" fill="url(#ox)"/><circle cx="75.25" cy="264.75" r="1.35" fill="url(#ox)"/><circle cx="79.15" cy="264.75" r="1.35" fill="url(#ox)"/><circle cx="101.55" cy="264.75" r="1.35" fill="url(#ox)"/><circle cx="105.45" cy="264.75" r="1.35" fill="url(#ox)"/><circle cx="127.85" cy="264.75" r="1.35" fill="url(#ox)"/><circle cx="131.75" cy="264.75" r="1.35" fill="url(#ox)"/><circle cx="63.30" cy="254.55" r="1.25" fill="url(#ox)"/><circle cx="65.30" cy="254.55" r="1.25" fill="url(#ox)"/><circle cx="89.60" cy="254.55" r="1.25" fill="url(#ox)"/><circle cx="91.60" cy="254.55" r="1.25" fill="url(#ox)"/><circle cx="115.90" cy="254.55" r="1.25" fill="url(#ox)"/><circle cx="117.90" cy="254.55" r="1.25" fill="url(#ox)"/><circle cx="37.20" cy="254.55" r="1.25" fill="url(#ox)"/><circle cx="39.20" cy="254.55" r="1.25" fill="url(#ox)"/><circle cx="142.80" cy="254.55" r="1.25" fill="url(#ox)"/><circle cx="48.95" cy="278.18" r="1.35" fill="url(#ox)"/><circle cx="52.85" cy="278.18" r="1.35" fill="url(#ox)"/><circle cx="75.25" cy="278.18" r="1.35" fill="url(#ox)"/><circle cx="79.15" cy="278.18" r="1.35" fill="url(#ox)"/><circle cx="101.55" cy="278.18" r="1.35" fill="url(#ox)"/><circle cx="105.45" cy="278.18" r="1.35" fill="url(#ox)"/><circle cx="127.85" cy="278.18" r="1.35" fill="url(#ox)"/><circle cx="131.75" cy="278.18" r="1.35" fill="url(#ox)"/><circle cx="63.30" cy="267.98" r="1.25" fill="url(#ox)"/><circle cx="65.30" cy="267.98" r="1.25" fill="url(#ox)"/><circle cx="89.60" cy="267.98" r="1.25" fill="url(#ox)"/><circle cx="91.60" cy="267.98" r="1.25" fill="url(#ox)"/><circle cx="115.90" cy="267.98" r="1.25" fill="url(#ox)"/><circle cx="117.90" cy="267.98" r="1.25" fill="url(#ox)"/><circle cx="37.20" cy="267.98" r="1.25" fill="url(#ox)"/><circle cx="39.20" cy="267.98" r="1.25" fill="url(#ox)"/><circle cx="142.80" cy="267.98" r="1.25" fill="url(#ox)"/></g>
<g><circle cx="211.40" cy="201.60" r="3.75" fill="url(#hf)"/><circle cx="211.40" cy="213.70" r="3.75" fill="url(#hf)"/><circle cx="211.40" cy="225.80" r="3.75" fill="url(#hf)"/><circle cx="211.40" cy="237.90" r="3.75" fill="url(#hf)"/><circle cx="211.40" cy="250.00" r="3.75" fill="url(#hf)"/><circle cx="211.40" cy="262.10" r="3.75" fill="url(#hf)"/><circle cx="221.91" cy="195.90" r="3.75" fill="url(#hf)"/><circle cx="221.91" cy="208.03" r="3.75" fill="url(#hf)"/><circle cx="221.91" cy="220.16" r="3.75" fill="url(#hf)"/><circle cx="221.91" cy="232.29" r="3.75" fill="url(#hf)"/><circle cx="221.91" cy="244.42" r="3.75" fill="url(#hf)"/><circle cx="221.91" cy="256.55" r="3.75" fill="url(#hf)"/><circle cx="221.91" cy="268.68" r="3.75" fill="url(#hf)"/><circle cx="232.42" cy="201.60" r="3.75" fill="url(#hf)"/><circle cx="232.42" cy="213.70" r="3.75" fill="url(#hf)"/><circle cx="232.42" cy="225.80" r="3.75" fill="url(#hf)"/><circle cx="232.42" cy="237.90" r="3.75" fill="url(#hf)"/><circle cx="232.42" cy="250.00" r="3.75" fill="url(#hf)"/><circle cx="232.42" cy="262.10" r="3.75" fill="url(#hf)"/><circle cx="242.93" cy="195.90" r="3.75" fill="url(#hf)"/><circle cx="242.93" cy="208.03" r="3.75" fill="url(#hf)"/><circle cx="242.93" cy="220.16" r="3.75" fill="url(#hf)"/><circle cx="242.93" cy="232.29" r="3.75" fill="url(#hf)"/><circle cx="242.93" cy="244.42" r="3.75" fill="url(#hf)"/><circle cx="242.93" cy="256.55" r="3.75" fill="url(#hf)"/><circle cx="242.93" cy="268.68" r="3.75" fill="url(#hf)"/><circle cx="253.44" cy="201.60" r="3.75" fill="url(#hf)"/><circle cx="253.44" cy="213.70" r="3.75" fill="url(#hf)"/><circle cx="253.44" cy="225.80" r="3.75" fill="url(#hf)"/><circle cx="253.44" cy="237.90" r="3.75" fill="url(#hf)"/><circle cx="253.44" cy="250.00" r="3.75" fill="url(#hf)"/><circle cx="253.44" cy="262.10" r="3.75" fill="url(#hf)"/><circle cx="263.95" cy="195.90" r="3.75" fill="url(#hf)"/><circle cx="263.95" cy="208.03" r="3.75" fill="url(#hf)"/><circle cx="263.95" cy="220.16" r="3.75" fill="url(#hf)"/><circle cx="263.95" cy="232.29" r="3.75" fill="url(#hf)"/><circle cx="263.95" cy="244.42" r="3.75" fill="url(#hf)"/><circle cx="263.95" cy="256.55" r="3.75" fill="url(#hf)"/><circle cx="263.95" cy="268.68" r="3.75" fill="url(#hf)"/><circle cx="274.46" cy="201.60" r="3.75" fill="url(#hf)"/><circle cx="274.46" cy="213.70" r="3.75" fill="url(#hf)"/><circle cx="274.46" cy="225.80" r="3.75" fill="url(#hf)"/><circle cx="274.46" cy="237.90" r="3.75" fill="url(#hf)"/><circle cx="274.46" cy="250.00" r="3.75" fill="url(#hf)"/><circle cx="274.46" cy="262.10" r="3.75" fill="url(#hf)"/><circle cx="284.97" cy="195.90" r="3.75" fill="url(#hf)"/><circle cx="284.97" cy="208.03" r="3.75" fill="url(#hf)"/><circle cx="284.97" cy="220.16" r="3.75" fill="url(#hf)"/><circle cx="284.97" cy="232.29" r="3.75" fill="url(#hf)"/><circle cx="284.97" cy="244.42" r="3.75" fill="url(#hf)"/><circle cx="284.97" cy="256.55" r="3.75" fill="url(#hf)"/><circle cx="284.97" cy="268.68" r="3.75" fill="url(#hf)"/><circle cx="295.48" cy="201.60" r="3.75" fill="url(#hf)"/><circle cx="295.48" cy="213.70" r="3.75" fill="url(#hf)"/><circle cx="295.48" cy="225.80" r="3.75" fill="url(#hf)"/><circle cx="295.48" cy="237.90" r="3.75" fill="url(#hf)"/><circle cx="295.48" cy="250.00" r="3.75" fill="url(#hf)"/><circle cx="295.48" cy="262.10" r="3.75" fill="url(#hf)"/><circle cx="305.99" cy="195.90" r="3.75" fill="url(#hf)"/><circle cx="305.99" cy="208.03" r="3.75" fill="url(#hf)"/><circle cx="305.99" cy="220.16" r="3.75" fill="url(#hf)"/><circle cx="305.99" cy="232.29" r="3.75" fill="url(#hf)"/><circle cx="305.99" cy="244.42" r="3.75" fill="url(#hf)"/><circle cx="305.99" cy="256.55" r="3.75" fill="url(#hf)"/><circle cx="305.99" cy="268.68" r="3.75" fill="url(#hf)"/><circle cx="211.80" cy="202.00" r="1.6" fill="url(#ox)"/><circle cx="211.80" cy="214.10" r="1.6" fill="url(#ox)"/><circle cx="211.80" cy="226.20" r="1.6" fill="url(#ox)"/><circle cx="211.80" cy="238.30" r="1.6" fill="url(#ox)"/><circle cx="211.80" cy="250.40" r="1.6" fill="url(#ox)"/><circle cx="211.80" cy="262.50" r="1.6" fill="url(#ox)"/><circle cx="222.31" cy="196.30" r="1.6" fill="url(#ox)"/><circle cx="222.31" cy="208.43" r="1.6" fill="url(#ox)"/><circle cx="222.31" cy="220.56" r="1.6" fill="url(#ox)"/><circle cx="222.31" cy="232.69" r="1.6" fill="url(#ox)"/><circle cx="222.31" cy="244.82" r="1.6" fill="url(#ox)"/><circle cx="222.31" cy="256.95" r="1.6" fill="url(#ox)"/><circle cx="222.31" cy="269.08" r="1.6" fill="url(#ox)"/><circle cx="232.82" cy="202.00" r="1.6" fill="url(#ox)"/><circle cx="232.82" cy="214.10" r="1.6" fill="url(#ox)"/><circle cx="232.82" cy="226.20" r="1.6" fill="url(#ox)"/><circle cx="232.82" cy="238.30" r="1.6" fill="url(#ox)"/><circle cx="232.82" cy="250.40" r="1.6" fill="url(#ox)"/><circle cx="232.82" cy="262.50" r="1.6" fill="url(#ox)"/><circle cx="243.33" cy="196.30" r="1.6" fill="url(#ox)"/><circle cx="243.33" cy="208.43" r="1.6" fill="url(#ox)"/><circle cx="243.33" cy="220.56" r="1.6" fill="url(#ox)"/><circle cx="243.33" cy="232.69" r="1.6" fill="url(#ox)"/><circle cx="243.33" cy="244.82" r="1.6" fill="url(#ox)"/><circle cx="243.33" cy="256.95" r="1.6" fill="url(#ox)"/><circle cx="243.33" cy="269.08" r="1.6" fill="url(#ox)"/><circle cx="253.84" cy="202.00" r="1.6" fill="url(#ox)"/><circle cx="253.84" cy="214.10" r="1.6" fill="url(#ox)"/><circle cx="253.84" cy="226.20" r="1.6" fill="url(#ox)"/><circle cx="253.84" cy="238.30" r="1.6" fill="url(#ox)"/><circle cx="253.84" cy="250.40" r="1.6" fill="url(#ox)"/><circle cx="253.84" cy="262.50" r="1.6" fill="url(#ox)"/><circle cx="264.35" cy="196.30" r="1.6" fill="url(#ox)"/><circle cx="264.35" cy="208.43" r="1.6" fill="url(#ox)"/><circle cx="264.35" cy="220.56" r="1.6" fill="url(#ox)"/><circle cx="264.35" cy="232.69" r="1.6" fill="url(#ox)"/><circle cx="264.35" cy="244.82" r="1.6" fill="url(#ox)"/><circle cx="264.35" cy="256.95" r="1.6" fill="url(#ox)"/><circle cx="264.35" cy="269.08" r="1.6" fill="url(#ox)"/><circle cx="274.86" cy="202.00" r="1.6" fill="url(#ox)"/><circle cx="274.86" cy="214.10" r="1.6" fill="url(#ox)"/><circle cx="274.86" cy="226.20" r="1.6" fill="url(#ox)"/><circle cx="274.86" cy="238.30" r="1.6" fill="url(#ox)"/><circle cx="274.86" cy="250.40" r="1.6" fill="url(#ox)"/><circle cx="274.86" cy="262.50" r="1.6" fill="url(#ox)"/><circle cx="285.37" cy="196.30" r="1.6" fill="url(#ox)"/><circle cx="285.37" cy="208.43" r="1.6" fill="url(#ox)"/><circle cx="285.37" cy="220.56" r="1.6" fill="url(#ox)"/><circle cx="285.37" cy="232.69" r="1.6" fill="url(#ox)"/><circle cx="285.37" cy="244.82" r="1.6" fill="url(#ox)"/><circle cx="285.37" cy="256.95" r="1.6" fill="url(#ox)"/><circle cx="285.37" cy="269.08" r="1.6" fill="url(#ox)"/><circle cx="295.88" cy="202.00" r="1.6" fill="url(#ox)"/><circle cx="295.88" cy="214.10" r="1.6" fill="url(#ox)"/><circle cx="295.88" cy="226.20" r="1.6" fill="url(#ox)"/><circle cx="295.88" cy="238.30" r="1.6" fill="url(#ox)"/><circle cx="295.88" cy="250.40" r="1.6" fill="url(#ox)"/><circle cx="295.88" cy="262.50" r="1.6" fill="url(#ox)"/><circle cx="306.39" cy="196.30" r="1.6" fill="url(#ox)"/><circle cx="306.39" cy="208.43" r="1.6" fill="url(#ox)"/><circle cx="306.39" cy="220.56" r="1.6" fill="url(#ox)"/><circle cx="306.39" cy="232.69" r="1.6" fill="url(#ox)"/><circle cx="306.39" cy="244.82" r="1.6" fill="url(#ox)"/><circle cx="306.39" cy="256.95" r="1.6" fill="url(#ox)"/><circle cx="306.39" cy="269.08" r="1.6" fill="url(#ox)"/></g>
<line x1="9.90" y1="110.50" x2="10.02" y2="100.10" stroke="#2fae4a" stroke-width="2.0"/>
<polygon points="10.10,93.70 12.92,100.13 7.12,100.07" fill="#2fae4a"/>
<line x1="11.50" y1="109.80" x2="18.23" y2="105.60" stroke="#e0262e" stroke-width="2.2"/>
<polygon points="24.00,102.00 19.93,108.31 16.54,102.89" fill="#e0262e"/>
<line x1="11.00" y1="112.50" x2="18.26" y2="116.27" stroke="#2e4fae" stroke-width="2.2"/>
<polygon points="24.30,119.40 16.79,119.11 19.74,113.43" fill="#2e4fae"/>
<circle cx="9.7" cy="111.3" r="1.9" fill="url(#og)"/>
<text x="7.3" y="91.0" font-size="13.3" font-style="italic">b</text>
<text x="25.0" y="103.3" font-size="13.3" font-style="italic">a</text>
<text x="25.2" y="125.1" font-size="13.3" font-style="italic">c</text>
<line x1="179.50" y1="112.50" x2="179.50" y2="104.10" stroke="#2fae4a" stroke-width="1.6"/>
<polygon points="179.50,99.10 181.90,104.10 177.10,104.10" fill="#2fae4a"/>
<line x1="180.50" y1="113.80" x2="187.17" y2="117.55" stroke="#e0262e" stroke-width="1.7"/>
<polygon points="191.70,120.10 185.94,119.73 188.39,115.37" fill="#e0262e"/>
<line x1="178.50" y1="113.80" x2="171.98" y2="117.99" stroke="#2e4fae" stroke-width="1.7"/>
<polygon points="167.60,120.80 170.62,115.89 173.33,120.09" fill="#2e4fae"/>
<circle cx="179.5" cy="113.4" r="1.4" fill="url(#og)"/>
<text x="176.1" y="98.0" font-size="13.3" font-style="italic">b</text>
<text x="194.1" y="125.4" font-size="13.3" font-style="italic">a</text>
<text x="161.9" y="127.9" font-size="13.3" font-style="italic">c</text>
<line x1="3.50" y1="265.00" x2="3.50" y2="254.40" stroke="#2fae4a" stroke-width="2.0"/>
<polygon points="3.50,248.40 6.40,254.40 0.60,254.40" fill="#2fae4a"/>
<line x1="5.00" y1="266.60" x2="15.80" y2="266.60" stroke="#e0262e" stroke-width="2.0"/>
<polygon points="22.30,266.60 15.80,269.60 15.80,263.60" fill="#e0262e"/>
<circle cx="3.6" cy="266.7" r="2.5" fill="#27409a"/>
<text x="2.7" y="246.5" font-size="13.3" font-style="italic">b</text>
<text x="22.7" y="271.7" font-size="13.3" font-style="italic">a</text>
<line x1="179.80" y1="264.00" x2="179.92" y2="252.90" stroke="#e0262e" stroke-width="2.1"/>
<polygon points="180.00,245.90 182.92,252.93 176.92,252.87" fill="#e0262e"/>
<line x1="178.80" y1="265.60" x2="169.62" y2="270.70" stroke="#2fae4a" stroke-width="2.1"/>
<polygon points="163.50,274.10 168.16,268.08 171.08,273.32" fill="#2fae4a"/>
<line x1="180.80" y1="265.60" x2="189.89" y2="270.68" stroke="#2e4fae" stroke-width="2.1"/>
<polygon points="196.00,274.10 188.43,273.30 191.35,268.07" fill="#2e4fae"/>
<circle cx="179.6" cy="265" r="1.7" fill="url(#og)"/>
<text x="176.7" y="243.9" font-size="13.3" font-style="italic">a</text>
<text x="157.1" y="281.0" font-size="13.3" font-style="italic">b</text>
<text x="195.9" y="280.6" font-size="13.3" font-style="italic">c</text>
<path d="M366.50 242.50L366.50 233.50M366.50 10.50L366.50 19.50M382.05 242.50L382.05 238.20M382.05 10.50L382.05 14.80M397.60 242.50L397.60 238.20M397.60 10.50L397.60 14.80M413.15 242.50L413.15 238.20M413.15 10.50L413.15 14.80M428.70 242.50L428.70 238.20M428.70 10.50L428.70 14.80M444.25 242.50L444.25 233.50M444.25 10.50L444.25 19.50M459.80 242.50L459.80 238.20M459.80 10.50L459.80 14.80M475.35 242.50L475.35 238.20M475.35 10.50L475.35 14.80M490.90 242.50L490.90 238.20M490.90 10.50L490.90 14.80M506.45 242.50L506.45 238.20M506.45 10.50L506.45 14.80M522.00 242.50L522.00 233.50M522.00 10.50L522.00 19.50M537.55 242.50L537.55 238.20M537.55 10.50L537.55 14.80M553.10 242.50L553.10 238.20M553.10 10.50L553.10 14.80M568.65 242.50L568.65 238.20M568.65 10.50L568.65 14.80M584.20 242.50L584.20 238.20M584.20 10.50L584.20 14.80M599.75 242.50L599.75 233.50M599.75 10.50L599.75 19.50M615.30 242.50L615.30 238.20M615.30 10.50L615.30 14.80M630.85 242.50L630.85 238.20M630.85 10.50L630.85 14.80M646.40 242.50L646.40 238.20M646.40 10.50L646.40 14.80M661.95 242.50L661.95 238.20M661.95 10.50L661.95 14.80M677.50 242.50L677.50 233.50M677.50 10.50L677.50 19.50" stroke="#6e6e6e" stroke-width="1" fill="none"/>
<rect x="366.50" y="10.50" width="311.00" height="232.00" fill="none" stroke="#6e6e6e" stroke-width="1"/>
<text x="366.3" y="258.8" font-size="16" text-anchor="middle">20</text>
<text x="444.1" y="258.8" font-size="16" text-anchor="middle">25</text>
<text x="521.8" y="258.8" font-size="16" text-anchor="middle">30</text>
<text x="599.5" y="258.8" font-size="16" text-anchor="middle">35</text>
<text x="677.3" y="258.8" font-size="16" text-anchor="middle">40</text>
<text x="525.0" y="275.6" font-size="15.7" text-anchor="middle">2θ<tspan dx="2">(degrees)</tspan></text>
<text x="355.3" y="201.7" font-size="15.7" transform="rotate(-90 355.3 201.7)">Log Intensity (arb.units)</text>
<text x="402.7" y="86.0" font-size="15.7" transform="rotate(-90 402.7 86.0)">STO (001)</text>
<text x="432.0" y="72.7" font-size="15.7" transform="rotate(-90 432.0 72.7)">LSMO</text>
<text x="447.5" y="62.8" font-size="15.7" transform="rotate(-90 447.5 62.8)">(001)</text>
<text x="543.6" y="93.2" font-size="15.6" transform="rotate(-90 543.6 93.2)">HZO (111)</text>
<line x1="609.00" y1="37.70" x2="629.00" y2="37.70" stroke="#2d3f91" stroke-width="1.6"/>
<text x="634.5" y="42.3" font-size="15.3">5 nm</text>
<line x1="609.00" y1="52.90" x2="629.00" y2="52.90" stroke="#c93f4c" stroke-width="1.6"/>
<text x="634.5" y="57.5" font-size="15.3">3 nm</text>
<line x1="609.00" y1="68.30" x2="629.00" y2="68.30" stroke="#7d92aa" stroke-width="1.6"/>
<text x="634.5" y="72.9" font-size="15.3">1 nm</text>
<clipPath id="cpB"><rect x="366.5" y="10.5" width="311" height="232"/></clipPath>
<g clip-path="url(#cpB)">
<path d="M366.5,121.9 366.7,125.3 366.8,125.5 367.0,126.7 367.2,127.6 367.4,126.4 367.5,122.7 367.7,121.9 367.9,124.8 368.0,125.6 368.2,121.2 368.4,123.7 368.5,130.9 368.7,123.9 368.9,123.7 369.1,124.6 369.2,130.9 369.4,122.7 369.6,123.0 369.7,124.1 369.9,120.9 370.1,128.1 370.2,126.8 370.4,124.7 370.6,123.2 370.8,122.2 370.9,122.5 371.1,128.5 371.3,119.9 371.4,125.4 371.6,122.8 371.8,126.3 371.9,121.5 372.1,122.0 372.3,120.1 372.5,122.9 372.6,123.2 372.8,121.2 373.0,126.4 373.1,121.2 373.3,123.8 373.5,122.0 373.6,121.9 373.8,123.4 374.0,123.8 374.2,120.0 374.3,121.9 374.5,124.2 374.7,123.3 374.8,123.4 375.0,121.1 375.2,121.4 375.3,122.3 375.5,121.8 375.7,122.6 375.9,121.8 376.0,120.8 376.2,118.4 376.4,123.0 376.5,120.1 376.7,119.7 376.9,123.2 377.0,123.6 377.2,119.2 377.4,121.7 377.6,120.5 377.7,121.5 377.9,123.9 378.1,122.5 378.2,121.0 378.4,119.7 378.6,119.0 378.7,117.6 378.9,122.0 379.1,120.1 379.3,121.3 379.4,121.7 379.6,119.8 379.8,117.9 379.9,121.3 380.1,119.3 380.3,120.1 380.4,118.4 380.6,119.0 380.8,122.9 381.0,120.0 381.1,117.1 381.3,120.2 381.5,119.9 381.6,121.1 381.8,119.7 382.0,120.3 382.1,119.0 382.3,117.1 382.5,118.6 382.7,117.8 382.8,115.5 383.0,117.1 383.2,119.3 383.3,121.1 383.5,122.3 383.7,115.6 383.8,121.1 384.0,116.5 384.2,123.5 384.4,116.2 384.5,116.6 384.7,120.6 384.9,119.4 385.0,115.8 385.2,118.3 385.4,119.9 385.5,119.0 385.7,116.0 385.9,118.6 386.1,120.8 386.2,115.7 386.4,117.1 386.6,115.1 386.7,119.1 386.9,115.7 387.1,116.8 387.2,118.3 387.4,118.3 387.6,117.8 387.8,118.9 387.9,117.2 388.1,117.7 388.3,118.6 388.4,118.0 388.6,114.7 388.8,116.0 388.9,116.8 389.1,118.1 389.3,116.7 389.5,115.0 389.6,114.4 389.8,118.8 390.0,115.7 390.1,117.8 390.3,115.5 390.5,116.7 390.6,118.4 390.8,113.0 391.0,114.5 391.2,113.9 391.3,112.8 391.5,114.4 391.7,117.7 391.8,114.2 392.0,114.4 392.2,112.9 392.3,116.2 392.5,114.2 392.7,113.1 392.9,118.8 393.0,113.0 393.2,111.0 393.4,116.0 393.5,113.2 393.7,114.0 393.9,112.1 394.0,113.4 394.2,111.9 394.4,114.4 394.6,113.2 394.7,112.5 394.9,112.0 395.1,114.9 395.2,113.0 395.4,111.3 395.6,111.4 395.7,112.4 395.9,113.2 396.1,114.3 396.3,112.3 396.4,110.8 396.6,111.2 396.8,113.1 396.9,113.6 397.1,110.6 397.3,111.9 397.4,111.7 397.6,114.0 397.8,113.2 398.0,113.8 398.1,114.9 398.3,111.6 398.5,112.6 398.6,111.4 398.8,113.7 399.0,111.0 399.1,111.2 399.3,111.3 399.5,109.9 399.7,110.8 399.8,113.1 400.0,110.1 400.2,110.3 400.3,108.2 400.5,108.2 400.7,108.5 400.8,111.0 401.0,107.9 401.2,108.4 401.4,108.3 401.5,107.1 401.7,107.9 401.9,108.1 402.0,106.2 402.2,108.1 402.4,107.2 402.5,106.2 402.7,105.3 402.9,106.7 403.1,107.8 403.2,106.2 403.4,106.6 403.6,107.1 403.7,107.9 403.9,106.3 404.1,106.7 404.2,105.7 404.4,104.8 404.6,105.8 404.8,104.7 404.9,105.2 405.1,105.7 405.3,105.1 405.4,105.5 405.6,105.0 405.8,107.1 405.9,102.5 406.1,103.4 406.2,104.1 406.2,103.8 406.3,103.7 406.4,103.7 406.4,104.0 406.5,103.1 406.5,103.5 406.6,103.2 406.7,102.7 406.7,104.5 406.8,105.1 406.8,102.6 406.9,103.0 407.0,104.0 407.0,103.6 407.1,103.7 407.1,103.4 407.2,103.5 407.3,103.1 407.3,103.4 407.4,103.3 407.4,103.4 407.5,103.1 407.6,103.2 407.6,102.9 407.7,103.0 407.7,103.1 407.8,102.8 407.9,102.6 407.9,102.9 408.0,102.7 408.0,102.6 408.1,102.5 408.2,102.4 408.2,102.0 408.3,102.0 408.3,101.4 408.4,100.3 408.5,98.1 408.5,94.7 408.6,89.8 408.6,84.4 408.7,78.8 408.8,73.0 408.8,67.3 408.9,61.9 408.9,56.8 409.0,52.0 409.1,47.6 409.1,43.3 409.2,39.4 409.2,35.8 409.3,32.5 409.4,29.5 409.4,26.7 409.5,24.4 409.5,22.3 409.6,20.6 409.7,19.1 409.7,17.9 409.8,17.0 409.8,16.6 409.9,16.3 410.0,16.4 410.0,16.7 410.1,17.4 410.1,18.5 410.2,19.7 410.3,21.3 410.3,23.2 410.4,25.4 410.4,28.0 410.5,30.8 410.6,33.8 410.6,37.3 410.7,40.9 410.7,45.1 410.8,49.3 410.9,53.8 410.9,58.4 411.0,63.2 411.0,67.7 411.1,71.6 411.2,74.5 411.2,75.9 411.3,76.2 411.3,75.9 411.4,75.2 411.5,74.4 411.5,73.4 411.6,72.6 411.6,71.6 411.7,70.8 411.8,70.0 411.8,69.1 411.9,68.3 411.9,67.5 412.0,66.8 412.1,65.8 412.1,65.3 412.2,64.4 412.2,63.8 412.3,63.1 412.4,62.5 412.4,61.9 412.5,61.2 412.5,60.6 412.6,60.1 412.7,59.5 412.7,59.1 412.8,58.5 412.8,57.9 412.9,57.5 413.0,57.1 413.0,56.7 413.1,56.3 413.1,56.0 413.2,55.6 413.3,55.4 413.3,55.0 413.4,54.7 413.4,54.5 413.5,54.3 413.6,54.0 413.6,53.9 413.7,53.7 413.7,53.5 413.8,53.4 413.9,53.3 413.9,53.2 414.0,53.2 414.0,53.2 414.1,53.1 414.2,53.2 414.2,53.3 414.3,53.2 414.3,53.3 414.4,53.5 414.5,53.6 414.5,53.8 414.6,53.8 414.6,54.1 414.7,54.1 414.8,54.4 414.8,54.6 414.9,54.9 414.9,55.1 415.0,55.4 415.1,55.8 415.1,56.0 415.2,56.5 415.2,56.7 415.3,57.2 415.4,57.6 415.4,58.2 415.5,58.5 415.5,59.0 415.6,59.4 415.7,60.0 415.7,60.5 415.8,61.0 415.8,61.6 415.9,62.2 416.0,62.9 416.0,63.4 416.2,65.4 416.4,67.4 416.5,69.4 416.7,72.0 416.9,74.6 417.0,76.7 417.2,78.0 417.4,79.5 417.5,81.4 417.7,83.3 417.9,86.0 418.1,88.3 418.2,90.9 418.4,93.2 418.6,95.4 418.7,97.1 418.9,98.4 419.1,98.8 419.2,99.0 419.4,98.6 419.6,97.9 419.8,96.8 419.9,95.7 420.1,94.9 420.3,94.6 420.4,94.8 420.6,95.1 420.8,96.3 420.9,98.0 421.1,99.5 421.3,101.1 421.5,102.4 421.6,103.8 421.8,104.8 422.0,105.2 422.1,105.1 422.3,104.2 422.5,104.3 422.6,103.1 422.8,102.0 423.0,101.3 423.2,102.1 423.3,102.2 423.5,103.6 423.7,104.6 423.8,105.5 424.0,107.8 424.2,108.5 424.3,110.7 424.5,110.9 424.7,111.2 424.9,112.3 425.0,111.5 425.2,111.4 425.4,110.2 425.5,109.9 425.7,110.0 425.9,110.4 426.0,109.2 426.2,109.9 426.4,112.5 426.6,112.8 426.7,114.1 426.9,114.7 427.1,118.3 427.2,116.1 427.4,117.5 427.6,117.6 427.7,113.6 427.9,115.1 428.1,113.5 428.3,113.6 428.4,113.4 428.6,113.5 428.8,114.4 428.9,115.5 429.1,116.5 429.3,115.5 429.4,119.2 429.6,120.6 429.8,121.0 430.0,121.3 430.1,123.7 430.3,122.4 430.5,119.7 430.6,120.9 430.8,119.4 431.0,121.1 431.1,119.1 431.3,117.2 431.5,119.6 431.7,118.9 431.8,119.1 432.0,124.6 432.2,122.4 432.3,123.3 432.5,120.6 432.7,125.4 432.8,124.0 433.0,124.5 433.2,124.5 433.4,123.3 433.5,123.2 433.7,122.7 433.9,123.7 434.0,122.9 434.2,121.2 434.4,123.3 434.5,126.0 434.7,125.7 434.9,125.5 435.1,129.2 435.2,122.2 435.4,128.0 435.6,127.4 435.7,129.2 435.9,133.1 436.1,127.3 436.2,123.2 436.4,126.2 436.6,124.8 436.8,124.9 436.9,124.4 437.1,123.1 437.3,122.7 437.4,127.3 437.6,125.9 437.8,127.5 437.9,125.9 438.1,132.2 438.3,131.0 438.5,130.7 438.6,128.9 438.8,131.2 439.0,128.5 439.1,129.0 439.3,129.4 439.5,124.1 439.6,132.5 439.8,128.7 440.0,131.3 440.2,128.3 440.3,129.6 440.5,128.9 440.7,132.5 440.8,135.1 441.0,133.0 441.2,134.0 441.3,134.5 441.5,134.4 441.7,131.5 441.9,131.6 442.0,134.9 442.2,123.2 442.4,129.4 442.5,130.7 442.7,127.7 442.9,129.8 443.0,130.0 443.2,132.6 443.4,127.1 443.6,133.1 443.7,133.7 443.9,132.3 444.1,130.4 444.2,131.7 444.4,129.8 444.6,129.5 444.7,131.8 444.9,127.4 445.1,127.0 445.3,127.3 445.4,125.8 445.6,127.5 445.8,129.9 445.9,128.2 446.1,131.6 446.3,127.5 446.4,131.2 446.6,130.0 446.8,132.6 447.0,128.0 447.1,126.4 447.3,127.3 447.5,127.9 447.6,126.3 447.8,130.2 448.0,128.1 448.1,125.8 448.3,124.7 448.5,125.8 448.7,125.1 448.8,130.6 449.0,131.5 449.2,128.8 449.3,126.7 449.5,125.2 449.7,129.2 449.8,124.2 450.0,123.8 450.2,127.9 450.4,126.9 450.5,126.8 450.7,122.4 450.9,122.4 451.0,133.5 451.2,126.8 451.4,123.8 451.5,127.8 451.7,124.7 451.9,125.8 452.1,124.8 452.2,129.3 452.4,122.7 452.6,125.7 452.7,127.6 452.9,128.5 453.1,128.4 453.2,122.7 453.4,127.0 453.6,125.1 453.8,123.5 453.9,122.9 454.1,125.4 454.3,123.3 454.4,122.3 454.6,123.8 454.8,124.9 454.9,127.1 455.1,124.3 455.3,124.9 455.5,123.3 455.6,125.1 455.8,124.5 456.0,127.3 456.1,126.7 456.3,124.1 456.5,123.4 456.6,127.4 456.8,125.0 457.0,124.7 457.2,121.9 457.3,128.2 457.5,130.6 457.7,126.1 457.8,126.0 458.0,125.7 458.2,136.5 458.3,124.5 458.5,125.6 458.7,123.3 458.9,126.1 459.0,123.4 459.2,127.3 459.4,127.5 459.5,125.1 459.7,124.4 459.9,122.4 460.0,125.5 460.2,131.1 460.4,131.0 460.6,125.2 460.7,122.8 460.9,130.4 461.1,129.6 461.2,128.2 461.4,128.9 461.6,128.2 461.7,125.4 461.9,126.9 462.1,126.2 462.3,132.3 462.4,130.4 462.6,122.9 462.8,127.1 462.9,129.9 463.1,128.9 463.3,127.3 463.4,128.9 463.6,130.7 463.8,129.2 464.0,129.2 464.1,129.4 464.3,129.4 464.5,128.3 464.6,130.5 464.8,129.1 465.0,131.0 465.1,133.9 465.3,131.8 465.5,135.9 465.7,130.4 465.8,131.1 466.0,133.7 466.2,131.3 466.3,133.6 466.5,136.2 466.7,130.8 466.8,132.0 467.0,132.4 467.2,132.1 467.4,135.2 467.5,132.7 467.7,136.4 467.9,133.6 468.0,131.9 468.2,132.9 468.4,131.1 468.5,132.8 468.7,129.1 468.9,132.4 469.1,129.7 469.2,134.8 469.4,140.3 469.6,125.8 469.7,125.6 469.9,125.9 470.1,133.3 470.2,132.5 470.4,128.1 470.6,134.4 470.8,130.9 470.9,122.6 471.1,133.1 471.3,129.2 471.4,127.3 471.6,125.9 471.8,127.9 471.9,130.2 472.1,127.1 472.3,129.7 472.5,126.0 472.6,128.4 472.8,129.8 473.0,128.2 473.1,124.9 473.3,127.9 473.5,127.3 473.6,122.5 473.8,123.1 474.0,129.0 474.2,130.3 474.3,127.4 474.5,126.9 474.7,123.9 474.8,124.7 475.0,124.9 475.2,121.6 475.3,123.7 475.5,123.5 475.7,124.3 475.9,120.0 476.0,121.8 476.2,123.3 476.4,122.7 476.5,120.7 476.7,121.6 476.9,123.4 477.0,120.7 477.2,130.9 477.4,118.5 477.6,121.2 477.7,122.1 477.9,116.6 478.1,121.9 478.2,118.5 478.4,120.9 478.6,116.3 478.7,121.2 478.9,116.6 479.1,121.8 479.3,119.7 479.4,120.5 479.6,119.0 479.8,121.0 479.9,118.1 480.1,117.2 480.3,118.5 480.4,118.5 480.6,117.7 480.8,118.6 481.0,118.1 481.1,120.4 481.3,119.1 481.5,117.6 481.6,121.0 481.8,118.6 482.0,118.8 482.1,120.6 482.3,122.1 482.5,118.4 482.7,121.2 482.8,122.7 483.0,118.0 483.2,119.5 483.3,119.2 483.5,119.1 483.7,119.2 483.8,120.7 484.0,121.9 484.2,122.0 484.4,121.8 484.5,118.6 484.7,120.2 484.9,120.9 485.0,121.1 485.2,117.9 485.4,119.0 485.5,118.4 485.7,119.4 485.9,124.9 486.1,120.1 486.2,122.8 486.4,117.7 486.6,121.4 486.7,120.8 486.9,122.0 487.1,120.4 487.2,120.4 487.4,123.8 487.6,124.0 487.8,126.8 487.9,121.4 488.1,124.5 488.3,126.6 488.4,122.9 488.6,120.4 488.8,121.7 488.9,124.6 489.1,125.0 489.3,124.8 489.5,122.3 489.6,126.4 489.8,125.0 490.0,125.4 490.1,127.0 490.3,126.5 490.5,128.3 490.6,124.8 490.8,126.5 491.0,128.7 491.2,128.7 491.3,126.2 491.5,125.1 491.7,128.5 491.8,128.0 492.0,125.2 492.2,133.1 492.3,124.1 492.5,126.8 492.7,131.3 492.9,126.6 493.0,125.9 493.2,126.9 493.4,126.3 493.5,126.7 493.7,128.0 493.9,121.8 494.0,122.9 494.2,124.6 494.4,120.4 494.6,117.5 494.7,121.1 494.9,123.8 495.1,121.4 495.2,118.6 495.4,118.2 495.6,122.1 495.7,122.0 495.9,121.2 496.1,118.6 496.3,117.4 496.4,115.1 496.6,119.1 496.8,117.2 496.9,117.5 497.1,115.4 497.3,115.4 497.4,118.3 497.6,115.2 497.8,116.5 498.0,112.9 498.1,114.0 498.3,114.6 498.5,113.3 498.6,112.4 498.8,114.2 499.0,113.4 499.1,113.7 499.3,112.5 499.5,113.2 499.7,113.9 499.8,112.3 500.0,109.0 500.2,113.5 500.3,112.2 500.5,110.4 500.7,109.4 500.8,110.7 501.0,109.3 501.2,109.9 501.4,108.6 501.5,108.8 501.7,109.1 501.9,106.5 502.0,106.3 502.2,107.0 502.4,106.6 502.5,104.0 502.7,105.6 502.9,103.8 503.1,104.0 503.2,103.1 503.4,105.4 503.6,102.1 503.7,104.0 503.9,102.8 504.1,103.0 504.2,102.4 504.4,102.0 504.6,101.7 504.8,101.0 504.9,101.0 505.1,101.2 505.3,101.4 505.4,101.0 505.6,100.6 505.8,99.9 505.9,101.4 506.1,100.6 506.3,99.6 506.5,101.0 506.6,100.3 506.8,99.9 507.0,100.6 507.1,100.2 507.3,99.6 507.5,99.5 507.6,99.4 507.8,98.8 508.0,98.5 508.2,98.1 508.3,97.4 508.5,97.9 508.7,97.8 508.8,98.3 509.0,97.6 509.2,97.5 509.3,97.1 509.5,97.0 509.7,97.0 509.9,96.8 510.0,96.7 510.2,96.3 510.4,96.0 510.5,96.2 510.7,95.8 510.9,95.2 511.0,95.2 511.2,95.3 511.4,95.2 511.6,95.0 511.7,95.1 511.9,95.2 512.1,95.5 512.2,94.8 512.4,95.1 512.6,94.8 512.7,95.1 512.9,94.8 513.1,94.5 513.3,94.8 513.4,94.4 513.6,94.4 513.8,94.6 513.9,94.7 514.1,94.3 514.3,94.2 514.4,94.3 514.6,94.2 514.8,94.5 515.0,94.2 515.1,94.4 515.3,94.9 515.5,94.1 515.6,94.0 515.8,93.9 516.0,94.1 516.1,93.5 516.3,93.7 516.5,93.5 516.7,93.7 516.8,93.8 517.0,93.6 517.2,93.4 517.3,93.8 517.5,93.7 517.7,93.7 517.8,93.8 518.0,93.9 518.2,93.9 518.4,93.9 518.5,94.0 518.7,93.7 518.9,93.8 519.0,94.2 519.2,93.9 519.4,94.0 519.5,94.1 519.7,94.3 519.9,94.2 520.1,94.6 520.2,94.5 520.4,94.8 520.6,94.8 520.7,94.7 520.9,95.0 521.1,95.6 521.2,95.0 521.4,95.3 521.6,95.0 521.8,95.1 521.9,95.2 522.1,95.3 522.3,95.4 522.4,95.5 522.6,95.6 522.8,95.7 522.9,96.0 523.1,95.8 523.3,96.2 523.5,96.2 523.6,96.2 523.8,96.1 524.0,96.3 524.1,96.1 524.3,96.0 524.5,96.3 524.6,96.1 524.8,96.5 525.0,96.3 525.2,96.4 525.3,96.2 525.5,96.5 525.7,96.9 525.8,97.1 526.0,96.7 526.2,97.2 526.3,97.5 526.5,97.4 526.7,97.7 526.9,97.8 527.0,98.4 527.2,98.1 527.4,98.5 527.5,98.1 527.7,98.2 527.9,99.7 528.0,98.6 528.2,99.0 528.4,99.7 528.6,99.6 528.7,99.9 528.9,100.6 529.1,100.7 529.2,101.4 529.4,100.7 529.6,101.4 529.7,101.8 529.9,100.6 530.1,101.2 530.3,102.6 530.4,103.2 530.6,102.0 530.8,106.4 530.9,103.6 531.1,103.5 531.3,102.7 531.4,102.6 531.6,103.2 531.8,103.2 532.0,105.6 532.1,103.8 532.3,104.3 532.5,103.9 532.6,104.3 532.8,104.4 533.0,104.7 533.1,104.9 533.3,103.9 533.5,105.2 533.7,105.0 533.8,104.8 534.0,105.7 534.2,106.4 534.3,107.3 534.5,107.1 534.7,107.8 534.8,109.6 535.0,107.8 535.2,106.7 535.4,108.8 535.5,108.4 535.7,109.5 535.9,112.1 536.0,112.2 536.2,114.2 536.4,109.3 536.5,112.7 536.7,111.9 536.9,112.8 537.1,111.2 537.2,112.2 537.4,114.1 537.6,114.9 537.7,117.5 537.9,114.6 538.1,115.3 538.2,116.2 538.4,115.7 538.6,116.3 538.8,117.2 538.9,116.8 539.1,117.0 539.3,115.2 539.4,116.6 539.6,116.1 539.8,118.4 539.9,118.0 540.1,120.6 540.3,119.8 540.5,121.5 540.6,122.5 540.8,121.9 541.0,121.2 541.1,124.3 541.3,123.7 541.5,125.0 541.6,123.9 541.8,125.6 542.0,126.3 542.2,123.2 542.3,127.2 542.5,130.1 542.7,124.7 542.8,126.0 543.0,129.8 543.2,128.2 543.3,124.6 543.5,131.4 543.7,129.1 543.9,126.5 544.0,131.8 544.2,130.3 544.4,129.8 544.5,133.2 544.7,139.2 544.9,134.2 545.0,129.7 545.2,134.1 545.4,133.7 545.6,129.8 545.7,135.5 545.9,140.0 546.1,137.4 546.2,131.1 546.4,142.8 546.6,136.4 546.7,138.6 546.9,143.0 547.1,138.3 547.3,137.3 547.4,139.4 547.6,136.8 547.8,135.6 547.9,139.2 548.1,140.3 548.3,140.3 548.4,141.1 548.6,144.5 548.8,137.1 549.0,144.5 549.1,142.1 549.3,141.4 549.5,140.5 549.6,136.6 549.8,144.3 550.0,141.6 550.1,141.9 550.3,138.7 550.5,140.7 550.7,143.1 550.8,135.7 551.0,142.1 551.2,140.9 551.3,142.4 551.5,143.4 551.7,137.2 551.8,139.3 552.0,139.2 552.2,141.3 552.4,146.8 552.5,133.4 552.7,142.1 552.9,140.6 553.0,146.8 553.2,134.5 553.4,143.2 553.5,138.1 553.7,137.3 553.9,136.6 554.1,135.2 554.2,136.4 554.4,134.8 554.6,152.4 554.7,141.8 554.9,137.2 555.1,132.2 555.2,132.3 555.4,141.0 555.6,138.1 555.8,139.2 555.9,134.1 556.1,141.8 556.3,138.7 556.4,137.2 556.6,138.9 556.8,139.8 556.9,137.9 557.1,138.9 557.3,134.9 557.5,133.5 557.6,133.8 557.8,137.4 558.0,134.4 558.1,140.2 558.3,136.5 558.5,136.7 558.6,138.3 558.8,135.2 559.0,133.4 559.2,138.4 559.3,134.2 559.5,136.2 559.7,136.4 559.8,134.6 560.0,136.2 560.2,132.7 560.3,131.9 560.5,135.3 560.7,136.1 560.9,140.9 561.0,133.2 561.2,140.9 561.4,138.0 561.5,141.5 561.7,130.6 561.9,135.6 562.0,135.7 562.2,135.5 562.4,136.1 562.6,136.2 562.7,130.8 562.9,133.9 563.1,135.5 563.2,139.5 563.4,138.4 563.6,135.3 563.7,136.4 563.9,136.4 564.1,136.4 564.3,135.2 564.4,136.0 564.6,141.1 564.8,139.4 564.9,141.4 565.1,137.9 565.3,136.8 565.4,141.7 565.6,134.9 565.8,132.0 566.0,136.2 566.1,135.8 566.3,142.2 566.5,141.1 566.6,143.3 566.8,135.8 567.0,135.3 567.1,135.5 567.3,134.5 567.5,139.5 567.6,140.7 567.8,135.3 568.0,134.9 568.2,137.2 568.3,141.1 568.5,137.8 568.7,139.0 568.8,137.5 569.0,142.1 569.2,140.7 569.3,134.6 569.5,139.4 569.7,138.5 569.9,134.9 570.0,138.3 570.2,142.0 570.4,147.5 570.5,136.5 570.7,139.5 570.9,139.3 571.0,134.3 571.2,141.0 571.4,137.8 571.6,138.5 571.7,137.2 571.9,139.3 572.1,141.2 572.2,143.5 572.4,139.3 572.6,138.8 572.7,137.3 572.9,139.6 573.1,135.7 573.3,138.3 573.4,143.2 573.6,137.9 573.8,137.0 573.9,136.2 574.1,135.4 574.3,141.1 574.4,139.9 574.6,137.0 574.8,138.4 575.0,135.9 575.1,141.5 575.3,136.7 575.5,132.1 575.6,136.4 575.8,144.7 576.0,141.1 576.1,139.6 576.3,138.7 576.5,131.0 576.7,139.7 576.8,138.2 577.0,137.2 577.2,137.2 577.3,139.5 577.5,141.3 577.7,140.6 577.8,137.7 578.0,135.4 578.2,135.7 578.4,140.4 578.5,140.7 578.7,139.7 578.9,137.7 579.0,140.0 579.2,134.6 579.4,138.2 579.5,140.7 579.7,140.4 579.9,142.6 580.1,138.3 580.2,136.3 580.4,139.6 580.6,137.9 580.7,143.0 580.9,135.7 581.1,139.9 581.2,139.6 581.4,143.8 581.6,138.1 581.8,139.1 581.9,134.4 582.1,140.2 582.3,140.1 582.4,140.1 582.6,139.1 582.8,134.9 582.9,140.6 583.1,134.3 583.3,137.6 583.5,139.3 583.6,135.3 583.8,140.8 584.0,133.3 584.1,138.4 584.3,137.4 584.5,138.9 584.6,135.6 584.8,138.4 585.0,141.8 585.2,137.9 585.3,140.0 585.5,134.3 585.7,135.4 585.8,141.3 586.0,142.2 586.2,139.5 586.3,146.9 586.5,145.2 586.7,137.6 586.9,147.1 587.0,138.5 587.2,139.9 587.4,139.0 587.5,138.4 587.7,139.2 587.9,136.7 588.0,141.1 588.2,142.3 588.4,147.3 588.6,142.2 588.7,142.5 588.9,136.8 589.1,138.4 589.2,146.5 589.4,134.4 589.6,144.0 589.7,136.5 589.9,145.1 590.1,139.9 590.3,138.2 590.4,141.8 590.6,142.8 590.8,132.3 590.9,143.9 591.1,143.1 591.3,138.7 591.4,139.9 591.6,139.9 591.8,142.6 592.0,136.4 592.1,133.3 592.3,144.3 592.5,138.8 592.6,142.2 592.8,137.8 593.0,144.7 593.1,142.1 593.3,140.9 593.5,144.1 593.7,140.9 593.8,141.8 594.0,141.1 594.2,147.0 594.3,139.8 594.5,136.7 594.7,142.0 594.8,144.3 595.0,140.3 595.2,138.2 595.4,137.6 595.5,140.6 595.7,136.7 595.9,140.2 596.0,140.5 596.2,133.1 596.4,138.3 596.5,137.9 596.7,138.3 596.9,137.0 597.1,140.6 597.2,142.2 597.4,143.6 597.6,143.5 597.7,146.8 597.9,135.6 598.1,138.6 598.2,136.5 598.4,134.2 598.6,141.4 598.8,142.4 598.9,142.7 599.1,136.4 599.3,138.6 599.4,141.0 599.6,137.6 599.8,136.7 599.9,144.7 600.1,138.5 600.3,145.2 600.5,142.7 600.6,143.1 600.8,145.6 601.0,140.3 601.1,139.0 601.3,140.7 601.5,141.8 601.6,140.5 601.8,140.1 602.0,143.3 602.2,144.9 602.3,147.4 602.5,139.2 602.7,143.2 602.8,135.8 603.0,136.9 603.2,136.2 603.3,150.7 603.5,138.5 603.7,139.7 603.9,135.2 604.0,140.1 604.2,143.5 604.4,141.8 604.5,135.3 604.7,137.9 604.9,148.0 605.0,144.8 605.2,141.3 605.4,137.8 605.6,140.2 605.7,136.4 605.9,138.1 606.1,141.8 606.2,144.7 606.4,146.2 606.6,140.1 606.7,141.2 606.9,141.8 607.1,137.7 607.3,140.0 607.4,140.4 607.6,141.0 607.8,141.9 607.9,150.9 608.1,140.0 608.3,139.4 608.4,144.0 608.6,138.6 608.8,137.8 609.0,137.5 609.1,138.7 609.3,148.3 609.5,142.6 609.6,139.5 609.8,143.7 610.0,144.4 610.1,138.0 610.3,142.0 610.5,144.4 610.7,141.0 610.8,141.6 611.0,144.7 611.2,138.7 611.3,141.2 611.5,141.2 611.7,143.9 611.8,142.4 612.0,144.3 612.2,140.7 612.4,141.4 612.5,141.3 612.7,143.3 612.9,140.9 613.0,143.0 613.2,146.4 613.4,135.0 613.5,138.4 613.7,142.7 613.9,137.2 614.1,141.8 614.2,141.6 614.4,137.8 614.6,139.5 614.7,142.3 614.9,134.9 615.1,140.8 615.2,140.4 615.4,135.8 615.6,133.2 615.8,139.1 615.9,144.5 616.1,136.3 616.3,139.2 616.4,141.0 616.6,137.4 616.8,137.8 616.9,135.3 617.1,143.0 617.3,141.3 617.5,143.0 617.6,144.7 617.8,137.4 618.0,143.3 618.1,140.2 618.3,145.4 618.5,137.6 618.6,145.7 618.8,139.3 619.0,138.2 619.2,139.5 619.3,143.5 619.5,143.4 619.7,147.2 619.8,141.7 620.0,141.8 620.2,140.3 620.3,142.1 620.5,144.0 620.7,142.1 620.9,144.8 621.0,138.3 621.2,142.2 621.4,136.0 621.5,135.4 621.7,137.2 621.9,138.2 622.0,144.3 622.2,142.9 622.4,142.1 622.6,139.7 622.7,140.5 622.9,139.2 623.1,140.1 623.2,144.2 623.4,139.5 623.6,142.6 623.7,135.5 623.9,143.7 624.1,140.7 624.3,144.1 624.4,140.1 624.6,143.6 624.8,140.7 624.9,142.8 625.1,141.9 625.3,143.4 625.4,141.6 625.6,146.9 625.8,142.4 626.0,139.3 626.1,138.7 626.3,141.7 626.5,135.4 626.6,147.8 626.8,137.3 627.0,139.8 627.1,145.2 627.3,140.4 627.5,151.3 627.7,136.2 627.8,137.0 628.0,141.2 628.2,142.2 628.3,165.5 628.5,142.4 628.7,137.6 628.8,143.7 629.0,142.8 629.2,140.8 629.4,137.6 629.5,144.4 629.7,138.9 629.9,146.9 630.0,135.5 630.2,138.8 630.4,142.7 630.5,136.4 630.7,138.8 630.9,140.3 631.1,138.1 631.2,140.0 631.4,137.5 631.6,138.7 631.7,142.4 631.9,146.2 632.1,134.0 632.2,139.4 632.4,141.0 632.6,138.1 632.8,140.3 632.9,145.6 633.1,142.4 633.3,141.8 633.4,140.3 633.6,138.5 633.8,142.1 633.9,138.1 634.1,145.3 634.3,136.9 634.5,139.3 634.6,140.7 634.8,143.1 635.0,136.3 635.1,136.3 635.3,140.6 635.5,144.1 635.6,140.2 635.8,142.1 636.0,141.0 636.2,135.8 636.3,135.4 636.5,142.1 636.7,140.4 636.8,136.7 637.0,139.1 637.2,142.8 637.3,138.7 637.5,138.8 637.7,142.3 637.9,141.8 638.0,140.9 638.2,138.8 638.4,142.2 638.5,142.1 638.7,146.6 638.9,146.4 639.0,141.4 639.2,140.6 639.4,142.6 639.6,138.7 639.7,141.4 639.9,135.4 640.1,140.3 640.2,140.7 640.4,145.9 640.6,138.8 640.7,144.1 640.9,139.7 641.1,141.9 641.3,145.6 641.4,140.2 641.6,144.1 641.8,135.8 641.9,140.0 642.1,150.7 642.3,139.3 642.4,141.0 642.6,139.0 642.8,142.8 643.0,139.7 643.1,134.2 643.3,138.8 643.5,137.9 643.6,156.3 643.8,139.1 644.0,144.8 644.1,141.2 644.3,140.1 644.5,144.0 644.7,141.4 644.8,140.8 645.0,137.9 645.2,137.8 645.3,142.5 645.5,143.2 645.7,136.6 645.8,135.9 646.0,145.2 646.2,133.0 646.4,140.8 646.5,142.7 646.7,144.6 646.9,139.2 647.0,142.7 647.2,142.1 647.4,134.7 647.5,138.0 647.7,142.9 647.9,142.9 648.1,145.2 648.2,139.0 648.4,137.0 648.6,135.6 648.7,142.1 648.9,144.7 649.1,144.2 649.2,143.4 649.4,137.8 649.6,136.7 649.8,138.7 649.9,140.8 650.1,136.7 650.3,133.9 650.4,139.1 650.6,140.3 650.8,142.6 650.9,142.0 651.1,136.9 651.3,143.7 651.5,146.9 651.6,139.4 651.8,137.2 652.0,136.9 652.1,144.0 652.3,139.6 652.5,139.2 652.6,143.7 652.8,137.2 653.0,139.4 653.2,138.9 653.3,142.6 653.5,139.5 653.7,137.6 653.8,138.2 654.0,139.7 654.2,135.7 654.3,143.7 654.5,142.4 654.7,137.0 654.9,140.8 655.0,138.7 655.2,142.9 655.4,140.8 655.5,148.1 655.7,137.0 655.9,152.7 656.0,140.0 656.2,141.2 656.4,139.4 656.6,144.0 656.7,135.9 656.9,138.2 657.1,139.5 657.2,143.7 657.4,136.3 657.6,139.3 657.7,139.8 657.9,134.3 658.1,135.1 658.3,146.0 658.4,138.5 658.6,134.7 658.8,139.5 658.9,136.8 659.1,141.0 659.3,146.0 659.4,137.5 659.6,143.2 659.8,141.2 660.0,142.7 660.1,142.9 660.3,148.5 660.5,136.9 660.6,138.1 660.8,142.3 661.0,141.9 661.1,141.6 661.3,142.4 661.5,144.1 661.7,137.8 661.8,140.9 662.0,140.2 662.2,139.4 662.3,139.0 662.5,135.1 662.7,136.4 662.8,144.0 663.0,138.1 663.2,137.6 663.4,140.2 663.5,137.0 663.7,139.9 663.9,141.5 664.0,138.1 664.2,144.2 664.4,138.8 664.5,138.0 664.7,149.7 664.9,142.6 665.1,138.7 665.2,137.9 665.4,147.1 665.6,139.9 665.7,144.8 665.9,136.6 666.1,135.3 666.2,133.9 666.4,141.0 666.6,136.8 666.8,138.4 666.9,149.0 667.1,143.3 667.3,140.3 667.4,138.7 667.6,140.7 667.8,138.5 667.9,138.2 668.1,146.2 668.3,167.4 668.5,136.5 668.6,140.5 668.8,136.1 669.0,134.9 669.1,145.4 669.3,140.9 669.5,137.2 669.6,138.6 669.8,140.7 670.0,148.7 670.2,137.4 670.3,137.9 670.5,140.5 670.7,139.9 670.8,136.9 671.0,140.7 671.2,137.5 671.3,143.5 671.5,140.5 671.7,145.1 671.9,143.5 672.0,141.8 672.2,140.3 672.4,140.4 672.5,137.2 672.7,140.0 672.9,143.4 673.0,137.1 673.2,144.2 673.4,143.1 673.6,135.9 673.7,137.0 673.9,134.4 674.1,140.5 674.2,136.4 674.4,144.3 674.6,141.5 674.7,137.7 674.9,138.9 675.1,139.0 675.3,135.2 675.4,140.4 675.6,139.5 675.8,140.2 675.9,141.2 676.1,142.8 676.3,141.2 676.4,146.0 676.6,137.6 676.8,146.6 677.0,135.7 677.1,142.6 677.3,144.6 677.5,141.5" stroke="#2d3f91" stroke-width="1.4" fill="none" stroke-linejoin="round" stroke-linecap="round"/>
<path d="M366.5,157.9 366.7,164.4 366.8,161.5 367.0,157.8 367.2,159.4 367.4,160.8 367.5,159.7 367.7,160.9 367.9,159.5 368.0,160.2 368.2,161.2 368.4,161.3 368.5,161.7 368.7,163.0 368.9,159.7 369.1,160.3 369.2,158.9 369.4,161.3 369.6,158.5 369.7,166.9 369.9,158.5 370.1,159.6 370.2,158.6 370.4,159.3 370.6,159.2 370.8,159.1 370.9,161.4 371.1,158.9 371.3,160.5 371.4,162.0 371.6,160.5 371.8,160.3 371.9,158.8 372.1,159.1 372.3,159.3 372.5,161.1 372.6,159.8 372.8,158.3 373.0,156.2 373.1,158.5 373.3,157.7 373.5,156.3 373.6,154.3 373.8,160.4 374.0,158.6 374.2,156.7 374.3,157.5 374.5,164.3 374.7,159.3 374.8,154.8 375.0,159.4 375.2,159.0 375.3,157.5 375.5,157.4 375.7,156.8 375.9,158.7 376.0,156.9 376.2,155.2 376.4,156.0 376.5,157.9 376.7,158.9 376.9,161.1 377.0,158.3 377.2,161.1 377.4,155.1 377.6,155.5 377.7,157.7 377.9,159.4 378.1,159.3 378.2,157.0 378.4,155.8 378.6,157.2 378.7,157.2 378.9,157.7 379.1,154.7 379.3,159.2 379.4,158.3 379.6,155.2 379.8,155.7 379.9,157.9 380.1,157.3 380.3,158.1 380.4,159.0 380.6,154.8 380.8,158.8 381.0,157.4 381.1,157.2 381.3,157.6 381.5,155.6 381.6,159.6 381.8,154.8 382.0,157.2 382.1,154.4 382.3,157.0 382.5,155.9 382.7,159.9 382.8,155.7 383.0,154.9 383.2,156.7 383.3,156.6 383.5,156.2 383.7,156.9 383.8,158.4 384.0,152.3 384.2,156.0 384.4,154.3 384.5,153.0 384.7,153.5 384.9,154.7 385.0,161.2 385.2,155.3 385.4,152.8 385.5,157.2 385.7,155.3 385.9,155.5 386.1,156.7 386.2,155.2 386.4,154.1 386.6,156.0 386.7,156.6 386.9,151.9 387.1,158.8 387.2,154.1 387.4,155.4 387.6,154.4 387.8,155.9 387.9,156.5 388.1,155.5 388.3,154.1 388.4,153.6 388.6,155.0 388.8,156.1 388.9,151.1 389.1,155.0 389.3,154.1 389.5,153.0 389.6,152.3 389.8,156.8 390.0,151.1 390.1,156.0 390.3,153.3 390.5,154.6 390.6,153.3 390.8,154.3 391.0,151.0 391.2,151.6 391.3,154.8 391.5,152.6 391.7,151.1 391.8,152.5 392.0,152.5 392.2,152.6 392.3,154.6 392.5,153.2 392.7,151.3 392.9,152.7 393.0,153.6 393.2,151.8 393.4,150.0 393.5,150.1 393.7,150.6 393.9,152.4 394.0,152.5 394.2,153.1 394.4,152.1 394.6,152.2 394.7,154.8 394.9,149.8 395.1,150.7 395.2,151.6 395.4,152.5 395.6,151.1 395.7,153.6 395.9,153.2 396.1,148.7 396.3,151.6 396.4,152.6 396.6,152.1 396.8,152.4 396.9,152.7 397.1,152.9 397.3,150.4 397.4,151.8 397.6,152.3 397.8,152.1 398.0,152.7 398.1,153.1 398.3,151.1 398.5,154.0 398.6,151.4 398.8,150.9 399.0,151.8 399.1,149.8 399.3,154.5 399.5,152.3 399.7,154.2 399.8,150.6 400.0,151.1 400.2,151.0 400.3,149.8 400.5,149.7 400.7,150.0 400.8,151.6 401.0,150.6 401.2,150.9 401.4,151.4 401.5,150.3 401.7,149.8 401.9,148.8 402.0,151.7 402.2,150.7 402.4,150.1 402.5,151.3 402.7,149.2 402.9,150.4 403.1,149.8 403.2,149.5 403.4,151.6 403.6,149.9 403.7,150.1 403.9,146.7 404.1,149.7 404.2,147.5 404.4,149.2 404.6,148.3 404.8,147.5 404.9,146.2 405.1,148.0 405.3,147.5 405.4,147.7 405.6,146.4 405.8,148.0 405.9,146.0 406.1,147.6 406.2,146.3 406.2,144.5 406.3,146.8 406.4,146.6 406.4,145.6 406.5,143.8 406.5,147.1 406.6,145.7 406.7,146.2 406.7,146.0 406.8,145.6 406.8,144.8 406.9,145.0 407.0,145.6 407.0,145.3 407.1,145.3 407.1,145.3 407.2,145.3 407.3,145.4 407.3,145.0 407.4,145.0 407.4,144.6 407.5,144.6 407.6,144.7 407.6,144.6 407.7,145.0 407.7,144.8 407.8,144.7 407.9,144.7 407.9,144.4 408.0,144.6 408.0,144.7 408.1,145.5 408.2,143.7 408.2,143.2 408.3,141.8 408.3,138.9 408.4,134.4 408.5,129.1 408.5,123.2 408.6,117.2 408.6,111.3 408.7,105.5 408.8,100.1 408.8,94.8 408.9,89.9 408.9,85.4 409.0,81.0 409.1,77.0 409.1,73.3 409.2,69.9 409.2,66.8 409.3,64.0 409.4,61.6 409.4,59.5 409.5,57.5 409.5,56.1 409.6,54.8 409.7,53.8 409.7,53.1 409.8,52.7 409.8,52.7 409.9,52.9 410.0,53.5 410.0,54.4 410.1,55.6 410.1,57.2 410.2,58.9 410.3,61.0 410.3,63.4 410.4,66.1 410.4,69.3 410.5,72.5 410.6,76.1 410.6,80.1 410.7,84.4 410.7,88.8 410.8,93.6 410.9,98.7 410.9,103.9 411.0,109.3 411.0,114.3 411.1,118.7 411.2,121.9 411.2,123.1 411.3,123.4 411.3,122.9 411.4,122.1 411.5,121.3 411.5,120.3 411.6,119.3 411.6,118.4 411.7,117.4 411.8,116.6 411.8,115.7 411.9,114.8 411.9,113.9 412.0,113.0 412.1,112.2 412.1,111.4 412.2,110.7 412.2,109.8 412.3,109.1 412.4,108.4 412.4,107.7 412.5,107.0 412.5,106.3 412.6,105.7 412.7,105.1 412.7,104.6 412.8,104.0 412.8,103.4 412.9,102.9 413.0,102.4 413.0,102.1 413.1,101.5 413.1,101.0 413.2,100.6 413.3,100.3 413.3,99.9 413.4,99.6 413.4,99.3 413.5,99.0 413.6,98.8 413.6,98.5 413.7,98.4 413.7,98.1 413.8,98.1 413.9,97.8 413.9,97.8 414.0,97.6 414.0,97.7 414.1,97.6 414.2,97.6 414.2,97.6 414.3,97.7 414.3,97.6 414.4,97.7 414.5,97.7 414.5,97.8 414.6,97.9 414.6,98.0 414.7,98.1 414.8,98.3 414.8,98.4 414.9,98.7 414.9,98.8 415.0,99.2 415.1,99.3 415.1,99.6 415.2,99.9 415.2,100.3 415.3,100.5 415.4,101.0 415.4,101.4 415.5,101.7 415.5,102.3 415.6,102.7 415.7,103.1 415.7,103.5 415.8,104.0 415.8,104.6 415.9,105.1 416.0,105.8 416.0,106.5 416.2,108.3 416.4,110.2 416.5,112.4 416.7,114.9 416.9,117.4 417.0,119.9 417.2,121.8 417.4,122.9 417.5,124.3 417.7,125.9 417.9,127.6 418.1,129.5 418.2,131.5 418.4,133.4 418.6,135.3 418.7,136.5 418.9,137.9 419.1,139.4 419.2,140.0 419.4,140.1 419.6,139.6 419.8,139.1 419.9,138.8 420.1,138.1 420.3,137.7 420.4,137.4 420.6,137.6 420.8,138.3 420.9,139.7 421.1,141.1 421.3,142.9 421.5,144.8 421.6,148.6 421.8,148.1 422.0,148.0 422.1,147.9 422.3,148.0 422.5,147.0 422.6,145.8 422.8,144.6 423.0,144.6 423.2,145.2 423.3,145.2 423.5,145.9 423.7,148.6 423.8,149.7 424.0,151.3 424.2,153.3 424.3,156.7 424.5,154.1 424.7,156.9 424.9,156.1 425.0,154.5 425.2,155.3 425.4,155.7 425.5,153.2 425.7,153.7 425.9,153.6 426.0,153.3 426.2,154.0 426.4,156.0 426.6,155.1 426.7,156.3 426.9,159.0 427.1,159.0 427.2,161.2 427.4,161.1 427.6,162.9 427.7,162.7 427.9,162.8 428.1,159.8 428.3,160.6 428.4,159.2 428.6,158.1 428.8,159.3 428.9,157.6 429.1,160.5 429.3,160.5 429.4,161.3 429.6,164.9 429.8,167.6 430.0,165.0 430.1,163.5 430.3,168.5 430.5,162.0 430.6,161.4 430.8,163.5 431.0,162.2 431.1,160.4 431.3,161.0 431.5,161.7 431.7,161.5 431.8,160.2 432.0,160.3 432.2,162.8 432.3,164.0 432.5,161.6 432.7,163.7 432.8,164.6 433.0,163.4 433.2,164.1 433.4,164.1 433.5,164.9 433.7,162.8 433.9,161.6 434.0,161.9 434.2,163.4 434.4,159.6 434.5,163.0 434.7,162.4 434.9,162.9 435.1,164.3 435.2,166.5 435.4,161.3 435.6,166.6 435.7,165.2 435.9,162.4 436.1,161.1 436.2,161.9 436.4,160.5 436.6,161.4 436.8,161.9 436.9,162.3 437.1,165.0 437.3,162.9 437.4,163.2 437.6,163.2 437.8,163.8 437.9,162.0 438.1,164.7 438.3,167.9 438.5,166.3 438.6,166.6 438.8,167.0 439.0,161.8 439.1,162.9 439.3,162.3 439.5,163.0 439.6,162.5 439.8,162.1 440.0,159.2 440.2,161.8 440.3,163.6 440.5,165.3 440.7,167.0 440.8,167.4 441.0,169.5 441.2,165.5 441.3,167.9 441.5,163.2 441.7,164.5 441.9,163.9 442.0,164.1 442.2,163.5 442.4,162.8 442.5,163.0 442.7,163.3 442.9,162.0 443.0,163.4 443.2,170.6 443.4,162.8 443.6,166.8 443.7,164.2 443.9,166.6 444.1,165.1 444.2,169.1 444.4,166.8 444.6,163.5 444.7,164.2 444.9,164.8 445.1,162.5 445.3,162.4 445.4,165.6 445.6,163.8 445.8,164.1 445.9,165.9 446.1,162.3 446.3,164.6 446.4,167.7 446.6,171.3 446.8,162.7 447.0,164.5 447.1,165.9 447.3,165.9 447.5,162.9 447.6,170.9 447.8,163.1 448.0,163.2 448.1,161.2 448.3,161.8 448.5,163.9 448.7,166.7 448.8,167.0 449.0,164.0 449.2,166.5 449.3,164.4 449.5,179.5 449.7,166.4 449.8,167.6 450.0,164.8 450.2,164.5 450.4,164.5 450.5,166.4 450.7,165.2 450.9,162.7 451.0,165.1 451.2,164.0 451.4,166.8 451.5,169.0 451.7,164.0 451.9,166.7 452.1,161.8 452.2,166.1 452.4,166.4 452.6,166.9 452.7,167.1 452.9,165.6 453.1,161.9 453.2,166.8 453.4,165.9 453.6,165.1 453.8,162.2 453.9,163.6 454.1,165.8 454.3,161.6 454.4,168.1 454.6,166.9 454.8,165.9 454.9,167.4 455.1,167.0 455.3,170.8 455.5,167.1 455.6,167.5 455.8,165.3 456.0,166.1 456.1,168.0 456.3,165.3 456.5,166.1 456.6,168.4 456.8,166.7 457.0,164.5 457.2,167.9 457.3,170.2 457.5,170.5 457.7,163.5 457.8,168.0 458.0,168.8 458.2,166.4 458.3,170.0 458.5,164.5 458.7,165.0 458.9,168.6 459.0,162.3 459.2,168.5 459.4,164.6 459.5,168.0 459.7,168.2 459.9,166.6 460.0,167.7 460.2,169.9 460.4,170.7 460.6,165.3 460.7,166.0 460.9,163.0 461.1,169.6 461.2,167.9 461.4,165.8 461.6,168.5 461.7,168.1 461.9,168.4 462.1,170.2 462.3,170.4 462.4,166.3 462.6,172.3 462.8,170.5 462.9,170.2 463.1,168.2 463.3,174.0 463.4,169.3 463.6,170.3 463.8,175.9 464.0,165.6 464.1,170.9 464.3,169.5 464.5,170.0 464.6,169.1 464.8,171.4 465.0,174.4 465.1,174.1 465.3,168.9 465.5,174.8 465.7,170.9 465.8,171.3 466.0,171.3 466.2,176.1 466.3,174.9 466.5,175.5 466.7,175.4 466.8,176.6 467.0,170.5 467.2,171.1 467.4,178.0 467.5,169.8 467.7,169.9 467.9,176.6 468.0,170.6 468.2,173.4 468.4,172.5 468.5,171.7 468.7,174.3 468.9,170.9 469.1,175.0 469.2,172.6 469.4,170.0 469.6,171.2 469.7,172.1 469.9,168.8 470.1,171.4 470.2,169.1 470.4,170.3 470.6,173.7 470.8,171.2 470.9,174.7 471.1,169.7 471.3,165.3 471.4,170.7 471.6,174.0 471.8,172.1 471.9,176.1 472.1,171.8 472.3,174.7 472.5,172.9 472.6,172.3 472.8,170.8 473.0,173.0 473.1,170.9 473.3,169.9 473.5,166.6 473.6,171.8 473.8,172.5 474.0,168.6 474.2,166.9 474.3,169.0 474.5,167.5 474.7,168.9 474.8,168.2 475.0,162.0 475.2,166.0 475.3,160.6 475.5,162.2 475.7,166.5 475.9,168.4 476.0,167.3 476.2,168.5 476.4,165.3 476.5,166.1 476.7,169.3 476.9,162.5 477.0,165.6 477.2,167.5 477.4,166.9 477.6,169.0 477.7,164.5 477.9,168.5 478.1,165.4 478.2,162.8 478.4,162.6 478.6,162.3 478.7,161.1 478.9,161.1 479.1,165.1 479.3,163.4 479.4,162.3 479.6,162.0 479.8,162.5 479.9,162.8 480.1,167.9 480.3,164.2 480.4,159.7 480.6,160.5 480.8,157.8 481.0,159.1 481.1,156.1 481.3,155.4 481.5,159.4 481.6,158.3 481.8,160.4 482.0,161.3 482.1,160.8 482.3,158.4 482.5,156.2 482.7,159.0 482.8,164.6 483.0,156.6 483.2,156.3 483.3,156.2 483.5,157.0 483.7,157.4 483.8,155.8 484.0,155.3 484.2,156.6 484.4,155.0 484.5,156.0 484.7,156.0 484.9,158.8 485.0,158.4 485.2,156.8 485.4,157.5 485.5,152.8 485.7,154.4 485.9,154.2 486.1,154.0 486.2,154.5 486.4,157.3 486.6,155.9 486.7,152.4 486.9,154.9 487.1,154.4 487.2,155.2 487.4,155.4 487.6,152.4 487.8,153.6 487.9,155.2 488.1,155.7 488.3,155.3 488.4,154.7 488.6,154.0 488.8,152.7 488.9,153.9 489.1,153.7 489.3,153.1 489.5,153.6 489.6,156.4 489.8,152.2 490.0,154.7 490.1,152.7 490.3,153.2 490.5,152.7 490.6,152.4 490.8,154.7 491.0,152.4 491.2,152.0 491.3,153.9 491.5,152.3 491.7,153.1 491.8,152.8 492.0,152.0 492.2,149.2 492.3,152.0 492.5,151.1 492.7,150.9 492.9,149.1 493.0,147.9 493.2,152.5 493.4,150.5 493.5,153.9 493.7,149.7 493.9,152.8 494.0,150.4 494.2,151.3 494.4,149.6 494.6,150.8 494.7,152.1 494.9,151.6 495.1,148.7 495.2,150.5 495.4,147.8 495.6,150.1 495.7,148.6 495.9,148.4 496.1,151.2 496.3,149.8 496.4,151.0 496.6,149.7 496.8,150.6 496.9,150.2 497.1,148.4 497.3,150.0 497.4,148.9 497.6,150.1 497.8,149.9 498.0,151.1 498.1,150.5 498.3,149.5 498.5,150.6 498.6,151.7 498.8,150.6 499.0,150.6 499.1,150.3 499.3,148.7 499.5,148.5 499.7,149.0 499.8,149.8 500.0,148.2 500.2,149.8 500.3,148.7 500.5,148.5 500.7,147.4 500.8,149.3 501.0,148.4 501.2,148.1 501.4,149.0 501.5,149.3 501.7,149.4 501.9,149.8 502.0,148.1 502.2,148.7 502.4,149.0 502.5,149.6 502.7,149.9 502.9,148.4 503.1,146.4 503.2,149.7 503.4,146.0 503.6,148.0 503.7,148.6 503.9,148.0 504.1,149.3 504.2,148.3 504.4,147.7 504.6,148.2 504.8,147.7 504.9,148.0 505.1,150.0 505.3,147.4 505.4,148.5 505.6,148.1 505.8,148.8 505.9,147.2 506.1,148.6 506.3,147.6 506.5,149.9 506.6,147.6 506.8,147.6 507.0,148.2 507.1,148.2 507.3,148.7 507.5,148.5 507.6,149.0 507.8,147.1 508.0,149.3 508.2,148.1 508.3,147.2 508.5,146.8 508.7,148.1 508.8,145.9 509.0,146.9 509.2,149.6 509.3,148.6 509.5,148.5 509.7,148.3 509.9,147.7 510.0,150.0 510.2,147.4 510.4,148.0 510.5,148.3 510.7,149.0 510.9,149.2 511.0,145.6 511.2,149.0 511.4,147.7 511.6,148.2 511.7,148.6 511.9,149.2 512.1,149.1 512.2,152.1 512.4,149.8 512.6,148.3 512.7,150.0 512.9,148.3 513.1,148.1 513.3,149.0 513.4,148.7 513.6,149.4 513.8,147.8 513.9,149.5 514.1,148.3 514.3,148.9 514.4,150.0 514.6,148.8 514.8,149.3 515.0,150.5 515.1,148.1 515.3,150.6 515.5,151.2 515.6,149.6 515.8,149.9 516.0,149.0 516.1,148.1 516.3,149.5 516.5,147.9 516.7,149.2 516.8,148.9 517.0,148.8 517.2,151.2 517.3,149.2 517.5,149.5 517.7,149.8 517.8,148.5 518.0,150.2 518.2,147.9 518.4,149.0 518.5,150.0 518.7,150.1 518.9,151.5 519.0,150.8 519.2,148.1 519.4,149.8 519.5,151.4 519.7,150.3 519.9,148.6 520.1,149.3 520.2,152.2 520.4,150.2 520.6,148.6 520.7,151.2 520.9,149.6 521.1,150.8 521.2,149.7 521.4,150.3 521.6,149.6 521.8,149.2 521.9,148.2 522.1,150.4 522.3,150.2 522.4,150.7 522.6,148.9 522.8,151.1 522.9,151.5 523.1,152.0 523.3,154.1 523.5,149.9 523.6,152.8 523.8,152.1 524.0,153.8 524.1,152.4 524.3,153.7 524.5,150.7 524.6,153.2 524.8,154.3 525.0,153.7 525.2,151.0 525.3,151.8 525.5,151.8 525.7,152.9 525.8,154.5 526.0,153.6 526.2,153.0 526.3,154.1 526.5,155.7 526.7,154.0 526.9,152.8 527.0,153.8 527.2,153.8 527.4,153.1 527.5,153.9 527.7,154.0 527.9,153.3 528.0,153.0 528.2,152.3 528.4,154.3 528.6,155.1 528.7,153.9 528.9,154.3 529.1,154.2 529.2,155.1 529.4,154.3 529.6,153.4 529.7,154.4 529.9,155.8 530.1,156.3 530.3,165.8 530.4,152.9 530.6,155.0 530.8,155.5 530.9,153.5 531.1,155.4 531.3,154.4 531.4,155.0 531.6,155.1 531.8,157.3 532.0,157.9 532.1,156.8 532.3,156.2 532.5,156.2 532.6,161.2 532.8,155.2 533.0,157.3 533.1,155.5 533.3,153.2 533.5,155.5 533.7,158.3 533.8,156.6 534.0,159.7 534.2,158.2 534.3,153.3 534.5,156.5 534.7,155.8 534.8,160.4 535.0,158.6 535.2,159.3 535.4,160.3 535.5,160.8 535.7,161.2 535.9,159.6 536.0,158.4 536.2,161.8 536.4,157.5 536.5,157.2 536.7,160.7 536.9,158.7 537.1,155.5 537.2,172.6 537.4,160.1 537.6,160.5 537.7,166.7 537.9,156.4 538.1,158.5 538.2,162.2 538.4,162.2 538.6,161.3 538.8,161.6 538.9,164.2 539.1,161.5 539.3,159.4 539.4,162.0 539.6,165.5 539.8,162.6 539.9,164.4 540.1,162.3 540.3,161.5 540.5,161.3 540.6,166.0 540.8,166.5 541.0,159.7 541.1,162.3 541.3,161.8 541.5,162.0 541.6,164.6 541.8,165.6 542.0,160.5 542.2,165.6 542.3,162.7 542.5,163.1 542.7,163.9 542.8,162.5 543.0,160.0 543.2,167.0 543.3,163.3 543.5,165.4 543.7,167.5 543.9,166.4 544.0,164.9 544.2,167.2 544.4,163.2 544.5,165.7 544.7,168.8 544.9,166.1 545.0,165.7 545.2,169.7 545.4,167.1 545.6,166.5 545.7,162.2 545.9,170.5 546.1,166.8 546.2,168.9 546.4,166.2 546.6,168.9 546.7,165.5 546.9,170.6 547.1,167.4 547.3,169.4 547.4,169.2 547.6,168.2 547.8,169.7 547.9,171.7 548.1,176.9 548.3,161.9 548.4,170.8 548.6,173.9 548.8,166.5 549.0,169.6 549.1,168.5 549.3,166.8 549.5,171.3 549.6,171.8 549.8,173.7 550.0,169.2 550.1,170.8 550.3,169.7 550.5,170.9 550.7,171.1 550.8,166.3 551.0,171.3 551.2,170.3 551.3,174.5 551.5,168.9 551.7,172.3 551.8,172.6 552.0,178.4 552.2,173.9 552.4,169.3 552.5,168.2 552.7,170.2 552.9,170.2 553.0,176.9 553.2,171.1 553.4,171.9 553.5,174.7 553.7,173.3 553.9,169.8 554.1,174.2 554.2,175.1 554.4,174.7 554.6,170.5 554.7,178.8 554.9,172.0 555.1,187.3 555.2,173.0 555.4,177.5 555.6,175.5 555.8,169.8 555.9,175.6 556.1,175.2 556.3,178.0 556.4,173.1 556.6,174.2 556.8,176.7 556.9,179.7 557.1,177.5 557.3,173.0 557.5,171.6 557.6,177.2 557.8,178.5 558.0,176.7 558.1,175.6 558.3,173.4 558.5,177.3 558.6,178.0 558.8,177.5 559.0,183.0 559.2,179.2 559.3,185.5 559.5,176.5 559.7,177.7 559.8,180.1 560.0,173.7 560.2,175.0 560.3,178.0 560.5,173.1 560.7,176.8 560.9,195.4 561.0,176.0 561.2,175.6 561.4,178.4 561.5,170.7 561.7,178.5 561.9,175.2 562.0,172.7 562.2,185.8 562.4,180.1 562.6,180.2 562.7,174.5 562.9,179.8 563.1,173.7 563.2,183.4 563.4,178.5 563.6,181.3 563.7,176.9 563.9,178.5 564.1,180.5 564.3,180.8 564.4,178.8 564.6,177.6 564.8,182.7 564.9,178.5 565.1,175.6 565.3,180.3 565.4,181.4 565.6,179.4 565.8,182.1 566.0,179.1 566.1,169.2 566.3,178.9 566.5,178.7 566.6,181.7 566.8,179.8 567.0,179.3 567.1,179.5 567.3,176.5 567.5,179.1 567.6,180.5 567.8,177.7 568.0,181.4 568.2,179.6 568.3,179.4 568.5,189.0 568.7,176.6 568.8,184.7 569.0,183.6 569.2,179.3 569.3,178.2 569.5,176.5 569.7,182.4 569.9,184.6 570.0,179.2 570.2,181.4 570.4,180.9 570.5,180.5 570.7,188.6 570.9,179.7 571.0,179.4 571.2,187.2 571.4,180.6 571.6,178.9 571.7,177.5 571.9,182.0 572.1,181.7 572.2,187.4 572.4,185.8 572.6,185.9 572.7,175.2 572.9,179.1 573.1,174.3 573.3,180.4 573.4,189.9 573.6,180.9 573.8,181.1 573.9,178.4 574.1,179.4 574.3,182.6 574.4,183.6 574.6,181.0 574.8,171.2 575.0,179.4 575.1,178.3 575.3,182.4 575.5,177.7 575.6,181.3 575.8,179.3 576.0,184.7 576.1,180.0 576.3,197.5 576.5,186.0 576.7,179.5 576.8,184.9 577.0,178.5 577.2,178.6 577.3,179.9 577.5,183.9 577.7,182.2 577.8,182.6 578.0,177.9 578.2,178.0 578.4,176.7 578.5,178.3 578.7,184.6 578.9,185.1 579.0,181.8 579.2,184.3 579.4,180.3 579.5,185.1 579.7,179.0 579.9,183.8 580.1,176.3 580.2,185.0 580.4,181.9 580.6,180.8 580.7,176.8 580.9,184.9 581.1,174.4 581.2,178.1 581.4,178.6 581.6,183.2 581.8,180.8 581.9,183.0 582.1,181.8 582.3,179.1 582.4,179.3 582.6,178.1 582.8,179.3 582.9,186.7 583.1,187.7 583.3,177.9 583.5,184.4 583.6,188.0 583.8,181.2 584.0,183.0 584.1,187.8 584.3,179.4 584.5,180.6 584.6,182.8 584.8,175.5 585.0,182.0 585.2,181.7 585.3,182.8 585.5,183.3 585.7,178.0 585.8,183.2 586.0,183.2 586.2,177.8 586.3,181.4 586.5,181.2 586.7,185.2 586.9,179.0 587.0,180.2 587.2,177.4 587.4,175.5 587.5,180.5 587.7,184.3 587.9,184.4 588.0,180.9 588.2,178.1 588.4,178.1 588.6,185.9 588.7,178.4 588.9,178.8 589.1,174.0 589.2,179.7 589.4,182.8 589.6,182.0 589.7,179.2 589.9,183.4 590.1,180.3 590.3,174.2 590.4,179.0 590.6,183.2 590.8,181.7 590.9,183.1 591.1,180.2 591.3,189.2 591.4,180.2 591.6,179.5 591.8,181.7 592.0,179.5 592.1,186.6 592.3,174.3 592.5,186.7 592.6,178.2 592.8,184.3 593.0,187.9 593.1,180.9 593.3,187.1 593.5,181.3 593.7,172.8 593.8,181.7 594.0,183.5 594.2,187.3 594.3,175.3 594.5,178.1 594.7,181.8 594.8,181.1 595.0,184.5 595.2,185.7 595.4,186.9 595.5,179.9 595.7,181.3 595.9,186.7 596.0,180.5 596.2,179.4 596.4,186.0 596.5,183.8 596.7,182.8 596.9,181.3 597.1,185.3 597.2,181.4 597.4,177.5 597.6,179.2 597.7,177.6 597.9,178.2 598.1,186.0 598.2,177.9 598.4,182.1 598.6,181.3 598.8,177.8 598.9,182.0 599.1,182.5 599.3,178.3 599.4,183.8 599.6,183.0 599.8,176.6 599.9,185.9 600.1,188.9 600.3,181.7 600.5,182.2 600.6,176.5 600.8,179.2 601.0,181.3 601.1,175.4 601.3,178.2 601.5,179.8 601.6,181.1 601.8,179.7 602.0,184.2 602.2,175.8 602.3,180.6 602.5,190.2 602.7,180.3 602.8,183.9 603.0,185.8 603.2,177.4 603.3,182.8 603.5,182.6 603.7,178.9 603.9,177.2 604.0,176.5 604.2,178.4 604.4,180.1 604.5,177.9 604.7,181.2 604.9,181.7 605.0,185.0 605.2,178.9 605.4,182.9 605.6,182.6 605.7,181.8 605.9,180.9 606.1,184.8 606.2,181.3 606.4,180.6 606.6,178.3 606.7,181.4 606.9,175.9 607.1,176.8 607.3,188.7 607.4,184.7 607.6,176.8 607.8,177.5 607.9,185.8 608.1,186.2 608.3,183.2 608.4,179.7 608.6,178.2 608.8,182.0 609.0,185.0 609.1,181.0 609.3,180.3 609.5,184.7 609.6,177.6 609.8,180.8 610.0,186.8 610.1,178.7 610.3,183.3 610.5,183.1 610.7,179.0 610.8,186.5 611.0,184.2 611.2,180.7 611.3,182.8 611.5,185.2 611.7,180.4 611.8,178.3 612.0,180.4 612.2,184.5 612.4,183.0 612.5,183.9 612.7,176.1 612.9,180.7 613.0,179.6 613.2,180.3 613.4,179.0 613.5,178.8 613.7,180.0 613.9,184.4 614.1,179.7 614.2,181.5 614.4,177.9 614.6,177.5 614.7,179.2 614.9,186.7 615.1,183.9 615.2,185.3 615.4,182.0 615.6,185.4 615.8,182.8 615.9,182.2 616.1,180.9 616.3,179.2 616.4,186.3 616.6,178.2 616.8,186.4 616.9,179.4 617.1,181.1 617.3,181.6 617.5,181.0 617.6,182.1 617.8,178.5 618.0,178.7 618.1,184.7 618.3,186.5 618.5,180.2 618.6,180.3 618.8,186.7 619.0,178.6 619.2,180.1 619.3,179.5 619.5,178.1 619.7,179.4 619.8,177.1 620.0,190.6 620.2,178.9 620.3,183.3 620.5,183.0 620.7,179.5 620.9,185.9 621.0,182.8 621.2,183.8 621.4,182.1 621.5,187.6 621.7,183.0 621.9,192.4 622.0,183.4 622.2,178.3 622.4,187.5 622.6,181.1 622.7,182.7 622.9,177.1 623.1,184.9 623.2,180.7 623.4,191.2 623.6,191.7 623.7,183.1 623.9,186.6 624.1,179.4 624.3,178.3 624.4,184.2 624.6,183.3 624.8,180.1 624.9,183.8 625.1,183.3 625.3,188.6 625.4,178.6 625.6,180.2 625.8,186.6 626.0,179.6 626.1,182.8 626.3,191.1 626.5,181.2 626.6,186.4 626.8,177.6 627.0,180.3 627.1,178.8 627.3,186.8 627.5,183.9 627.7,188.0 627.8,177.0 628.0,180.2 628.2,178.7 628.3,177.7 628.5,180.0 628.7,180.0 628.8,180.8 629.0,185.7 629.2,181.8 629.4,183.6 629.5,176.8 629.7,185.4 629.9,178.9 630.0,188.6 630.2,183.3 630.4,176.9 630.5,173.9 630.7,185.0 630.9,188.1 631.1,181.0 631.2,184.8 631.4,183.8 631.6,182.5 631.7,182.5 631.9,184.0 632.1,183.1 632.2,180.8 632.4,178.7 632.6,181.8 632.8,180.6 632.9,184.7 633.1,184.0 633.3,180.2 633.4,184.8 633.6,181.6 633.8,184.7 633.9,178.3 634.1,182.8 634.3,179.3 634.5,180.1 634.6,181.2 634.8,181.7 635.0,181.6 635.1,184.2 635.3,184.4 635.5,180.0 635.6,180.4 635.8,186.1 636.0,193.3 636.2,183.5 636.3,178.4 636.5,180.7 636.7,177.3 636.8,184.8 637.0,182.0 637.2,179.2 637.3,179.7 637.5,179.1 637.7,181.2 637.9,177.5 638.0,184.0 638.2,181.9 638.4,185.8 638.5,180.1 638.7,188.3 638.9,180.6 639.0,183.5 639.2,179.0 639.4,182.4 639.6,177.4 639.7,181.3 639.9,186.5 640.1,180.8 640.2,187.3 640.4,189.9 640.6,186.7 640.7,177.6 640.9,185.6 641.1,186.0 641.3,182.0 641.4,183.3 641.6,186.4 641.8,187.7 641.9,181.3 642.1,185.7 642.3,187.5 642.4,182.5 642.6,181.0 642.8,186.7 643.0,177.9 643.1,180.2 643.3,181.4 643.5,181.5 643.6,178.1 643.8,185.2 644.0,183.9 644.1,179.4 644.3,181.8 644.5,177.0 644.7,181.5 644.8,184.1 645.0,181.8 645.2,184.1 645.3,180.7 645.5,180.3 645.7,181.3 645.8,180.0 646.0,180.9 646.2,184.5 646.4,182.4 646.5,183.4 646.7,194.0 646.9,186.0 647.0,180.6 647.2,180.1 647.4,172.0 647.5,178.8 647.7,185.0 647.9,184.7 648.1,181.8 648.2,177.9 648.4,178.7 648.6,177.9 648.7,180.8 648.9,178.0 649.1,183.5 649.2,181.0 649.4,181.9 649.6,188.2 649.8,184.7 649.9,182.9 650.1,175.2 650.3,182.3 650.4,177.0 650.6,178.0 650.8,183.0 650.9,181.4 651.1,185.0 651.3,182.7 651.5,179.8 651.6,184.8 651.8,184.8 652.0,180.7 652.1,179.6 652.3,175.2 652.5,184.9 652.6,181.9 652.8,181.3 653.0,180.3 653.2,177.9 653.3,179.1 653.5,182.2 653.7,180.9 653.8,186.6 654.0,187.1 654.2,184.5 654.3,186.9 654.5,179.6 654.7,186.0 654.9,177.3 655.0,185.7 655.2,183.5 655.4,189.4 655.5,180.9 655.7,187.5 655.9,178.2 656.0,180.1 656.2,179.8 656.4,184.4 656.6,189.0 656.7,174.2 656.9,181.1 657.1,179.9 657.2,181.9 657.4,187.1 657.6,179.7 657.7,182.9 657.9,191.7 658.1,183.6 658.3,178.2 658.4,185.9 658.6,180.2 658.8,183.3 658.9,183.5 659.1,181.7 659.3,181.5 659.4,176.9 659.6,185.6 659.8,178.0 660.0,177.6 660.1,184.2 660.3,188.9 660.5,183.9 660.6,182.3 660.8,181.4 661.0,182.5 661.1,175.9 661.3,182.2 661.5,187.6 661.7,179.2 661.8,183.1 662.0,178.7 662.2,181.6 662.3,175.8 662.5,179.1 662.7,176.6 662.8,180.6 663.0,181.0 663.2,179.7 663.4,181.2 663.5,181.6 663.7,185.8 663.9,182.0 664.0,183.8 664.2,183.1 664.4,180.2 664.5,178.7 664.7,186.2 664.9,184.2 665.1,184.0 665.2,178.8 665.4,181.9 665.6,186.6 665.7,184.1 665.9,180.0 666.1,183.8 666.2,181.2 666.4,184.9 666.6,181.8 666.8,185.4 666.9,183.9 667.1,183.2 667.3,180.9 667.4,191.7 667.6,180.7 667.8,188.2 667.9,179.6 668.1,182.0 668.3,180.5 668.5,181.2 668.6,182.5 668.8,187.0 669.0,184.7 669.1,185.4 669.3,181.6 669.5,181.2 669.6,183.1 669.8,178.6 670.0,179.4 670.2,180.8 670.3,181.4 670.5,181.9 670.7,178.4 670.8,183.5 671.0,182.6 671.2,180.8 671.3,187.7 671.5,181.8 671.7,184.8 671.9,180.4 672.0,180.5 672.2,177.4 672.4,182.8 672.5,183.0 672.7,179.1 672.9,183.7 673.0,180.5 673.2,184.9 673.4,176.1 673.6,177.2 673.7,179.9 673.9,182.0 674.1,189.4 674.2,175.4 674.4,183.1 674.6,187.5 674.7,176.5 674.9,181.1 675.1,182.3 675.3,178.7 675.4,185.6 675.6,187.5 675.8,180.8 675.9,182.4 676.1,180.9 676.3,178.3 676.4,179.5 676.6,183.5 676.8,182.6 677.0,184.6 677.1,186.1 677.3,180.4 677.5,183.8" stroke="#c93f4c" stroke-width="1.4" fill="none" stroke-linejoin="round" stroke-linecap="round"/>
<path d="M366.5,200.6 366.7,203.9 366.8,201.7 367.0,201.9 367.2,200.1 367.4,206.3 367.5,203.3 367.7,197.9 367.9,201.1 368.0,199.1 368.2,198.8 368.4,201.4 368.5,202.3 368.7,194.8 368.9,199.5 369.1,198.4 369.2,197.7 369.4,201.1 369.6,200.4 369.7,201.6 369.9,197.7 370.1,202.3 370.2,201.7 370.4,197.7 370.6,200.5 370.8,198.8 370.9,202.7 371.1,199.5 371.3,198.3 371.4,198.8 371.6,199.4 371.8,198.9 371.9,199.2 372.1,213.5 372.3,200.9 372.5,200.8 372.6,200.7 372.8,202.3 373.0,196.6 373.1,199.9 373.3,199.3 373.5,197.8 373.6,198.4 373.8,200.4 374.0,198.5 374.2,205.4 374.3,196.6 374.5,199.4 374.7,199.7 374.8,198.3 375.0,199.9 375.2,199.1 375.3,201.2 375.5,199.5 375.7,201.0 375.9,198.4 376.0,197.5 376.2,199.9 376.4,200.8 376.5,197.7 376.7,200.7 376.9,195.0 377.0,196.9 377.2,198.1 377.4,201.4 377.6,198.9 377.7,199.1 377.9,196.4 378.1,198.3 378.2,197.3 378.4,200.7 378.6,196.2 378.7,198.2 378.9,201.8 379.1,196.6 379.3,198.2 379.4,196.5 379.6,199.6 379.8,198.4 379.9,198.8 380.1,194.4 380.3,197.5 380.4,198.3 380.6,197.8 380.8,200.0 381.0,198.6 381.1,201.9 381.3,200.1 381.5,200.5 381.6,198.6 381.8,201.4 382.0,195.4 382.1,196.4 382.3,195.4 382.5,200.0 382.7,198.4 382.8,195.0 383.0,199.7 383.2,193.1 383.3,198.9 383.5,196.8 383.7,197.8 383.8,199.2 384.0,197.0 384.2,197.3 384.4,198.0 384.5,198.4 384.7,196.3 384.9,197.3 385.0,197.3 385.2,196.6 385.4,196.2 385.5,195.9 385.7,193.9 385.9,195.0 386.1,195.0 386.2,194.8 386.4,197.2 386.6,197.5 386.7,195.5 386.9,199.1 387.1,192.6 387.2,197.6 387.4,197.2 387.6,195.7 387.8,200.3 387.9,198.4 388.1,197.6 388.3,197.8 388.4,195.7 388.6,193.8 388.8,197.8 388.9,192.7 389.1,192.5 389.3,192.4 389.5,199.4 389.6,194.0 389.8,195.8 390.0,192.4 390.1,194.1 390.3,194.9 390.5,191.5 390.6,193.2 390.8,195.7 391.0,191.7 391.2,195.6 391.3,196.4 391.5,195.3 391.7,197.2 391.8,195.3 392.0,195.2 392.2,193.9 392.3,190.8 392.5,195.7 392.7,193.6 392.9,193.5 393.0,193.9 393.2,194.4 393.4,195.2 393.5,198.0 393.7,192.8 393.9,190.3 394.0,193.4 394.2,194.3 394.4,197.7 394.6,193.9 394.7,194.9 394.9,194.0 395.1,194.1 395.2,195.9 395.4,193.6 395.6,192.0 395.7,191.3 395.9,194.7 396.1,194.3 396.3,192.7 396.4,200.8 396.6,193.0 396.8,193.8 396.9,195.4 397.1,193.1 397.3,193.8 397.4,191.8 397.6,190.6 397.8,193.1 398.0,191.8 398.1,191.6 398.3,196.0 398.5,194.0 398.6,192.7 398.8,192.2 399.0,195.3 399.1,192.0 399.3,192.5 399.5,191.4 399.7,191.9 399.8,191.3 400.0,191.0 400.2,191.6 400.3,188.5 400.5,190.8 400.7,190.0 400.8,189.9 401.0,192.3 401.2,190.3 401.4,189.6 401.5,188.9 401.7,188.8 401.9,190.6 402.0,189.4 402.2,188.1 402.4,189.9 402.5,190.1 402.7,189.9 402.9,189.4 403.1,188.7 403.2,186.2 403.4,184.6 403.6,186.4 403.7,187.2 403.9,187.9 404.1,187.9 404.2,185.1 404.4,186.9 404.6,186.0 404.8,187.4 404.9,184.9 405.1,184.2 405.3,184.9 405.4,185.5 405.6,184.4 405.8,184.6 405.9,182.8 406.1,185.2 406.2,184.0 406.2,184.1 406.3,183.3 406.4,183.4 406.4,183.3 406.5,183.5 406.5,183.4 406.6,183.2 406.7,185.5 406.7,182.7 406.8,182.1 406.8,183.7 406.9,184.0 407.0,182.3 407.0,182.5 407.1,183.0 407.1,183.0 407.2,182.5 407.3,182.7 407.3,182.8 407.4,182.2 407.4,182.7 407.5,182.7 407.6,182.3 407.6,182.8 407.7,181.8 407.7,182.1 407.8,181.6 407.9,181.0 407.9,179.1 408.0,175.6 408.0,171.0 408.1,165.6 408.2,159.8 408.2,153.8 408.3,148.1 408.3,142.5 408.4,137.2 408.5,132.2 408.5,127.4 408.6,123.1 408.6,119.0 408.7,115.1 408.8,111.6 408.8,108.4 408.9,105.5 408.9,103.0 409.0,100.7 409.1,98.7 409.1,97.1 409.2,95.8 409.2,94.7 409.3,94.0 409.4,93.5 409.4,93.3 409.5,93.5 409.5,94.1 409.6,94.9 409.7,96.0 409.7,97.2 409.8,99.0 409.8,101.0 409.9,103.2 410.0,105.9 410.0,108.8 410.1,111.9 410.1,115.5 410.2,119.3 410.3,123.3 410.3,127.8 410.4,132.4 410.4,137.2 410.5,142.1 410.6,146.9 410.6,151.1 410.7,154.3 410.7,156.0 410.8,156.6 410.9,156.3 410.9,155.6 411.0,154.7 411.0,153.6 411.1,152.7 411.2,151.7 411.2,150.8 411.3,149.9 411.3,148.8 411.4,148.0 411.5,147.2 411.5,146.3 411.6,145.5 411.6,144.6 411.7,144.1 411.8,143.1 411.8,142.3 411.9,141.6 411.9,140.9 412.0,140.1 412.1,139.6 412.1,138.9 412.2,138.4 412.2,137.7 412.3,137.2 412.4,136.6 412.4,135.9 412.5,135.5 412.5,135.0 412.6,134.4 412.7,134.0 412.7,133.5 412.8,133.1 412.8,132.7 412.9,132.3 413.0,131.9 413.0,131.5 413.1,131.2 413.1,130.9 413.2,130.6 413.3,130.4 413.3,130.1 413.4,129.8 413.4,129.7 413.5,129.5 413.6,129.5 413.6,129.2 413.7,129.1 413.7,129.4 413.8,128.9 413.9,129.0 413.9,129.0 414.0,129.0 414.0,129.0 414.1,129.1 414.2,129.1 414.2,129.2 414.3,129.2 414.3,129.3 414.4,129.4 414.5,129.6 414.5,129.6 414.6,129.9 414.6,130.0 414.7,130.1 414.8,130.4 414.8,130.5 414.9,130.7 414.9,131.2 415.0,131.3 415.1,131.7 415.1,132.0 415.2,132.2 415.2,132.5 415.3,132.9 415.4,133.3 415.4,133.8 415.5,134.3 415.5,134.7 415.6,135.3 415.7,135.7 415.7,136.3 415.8,136.7 415.8,137.4 415.9,138.0 416.0,138.7 416.0,139.4 416.2,141.3 416.4,143.6 416.5,146.1 416.7,148.5 416.9,150.6 417.0,151.4 417.2,153.0 417.4,154.6 417.5,157.0 417.7,160.0 417.9,163.2 418.1,166.7 418.2,169.9 418.4,172.7 418.6,174.9 418.7,176.9 418.9,177.4 419.1,177.9 419.2,176.8 419.4,176.8 419.6,175.7 419.8,174.4 419.9,174.0 420.1,173.5 420.3,173.4 420.4,174.3 420.6,175.7 420.8,177.0 420.9,178.6 421.1,180.2 421.3,181.5 421.5,182.7 421.6,184.2 421.8,184.5 422.0,183.1 422.1,182.6 422.3,181.9 422.5,181.4 422.6,181.2 422.8,180.1 423.0,180.6 423.2,180.9 423.3,182.0 423.5,184.9 423.7,185.9 423.8,187.4 424.0,188.7 424.2,188.5 424.3,190.8 424.5,189.4 424.7,191.0 424.9,193.0 425.0,188.9 425.2,190.5 425.4,188.1 425.5,187.6 425.7,187.6 425.9,188.0 426.0,188.6 426.2,190.4 426.4,190.7 426.6,193.3 426.7,194.5 426.9,195.6 427.1,198.0 427.2,198.7 427.4,197.0 427.6,199.0 427.7,195.4 427.9,193.8 428.1,194.2 428.3,193.2 428.4,194.8 428.6,195.0 428.8,193.9 428.9,193.4 429.1,198.2 429.3,196.9 429.4,198.7 429.6,199.8 429.8,201.3 430.0,200.1 430.1,201.5 430.3,201.3 430.5,199.2 430.6,197.7 430.8,199.4 431.0,198.0 431.1,196.3 431.3,195.1 431.5,200.1 431.7,199.3 431.8,200.2 432.0,203.4 432.2,202.8 432.3,203.5 432.5,203.0 432.7,203.6 432.8,201.5 433.0,201.3 433.2,202.0 433.4,200.7 433.5,200.9 433.7,202.0 433.9,198.2 434.0,200.8 434.2,200.8 434.4,201.9 434.5,198.6 434.7,201.3 434.9,203.5 435.1,204.9 435.2,206.1 435.4,206.0 435.6,206.9 435.7,202.5 435.9,205.8 436.1,203.0 436.2,198.4 436.4,202.5 436.6,200.1 436.8,199.2 436.9,203.6 437.1,203.3 437.3,201.3 437.4,204.2 437.6,207.4 437.8,204.1 437.9,206.5 438.1,206.6 438.3,207.3 438.5,204.2 438.6,207.3 438.8,205.8 439.0,198.3 439.1,202.4 439.3,200.5 439.5,199.9 439.6,201.2 439.8,200.6 440.0,203.8 440.2,201.7 440.3,207.4 440.5,206.4 440.7,206.4 440.8,202.3 441.0,201.8 441.2,206.6 441.3,202.8 441.5,199.2 441.7,198.2 441.9,203.9 442.0,199.3 442.2,201.4 442.4,198.3 442.5,201.2 442.7,203.5 442.9,204.7 443.0,204.8 443.2,202.9 443.4,200.7 443.6,204.4 443.7,206.6 443.9,202.9 444.1,203.2 444.2,201.1 444.4,204.2 444.6,201.0 444.7,200.8 444.9,200.2 445.1,199.6 445.3,199.1 445.4,199.4 445.6,201.1 445.8,201.3 445.9,202.9 446.1,197.8 446.3,199.8 446.4,204.4 446.6,204.9 446.8,199.1 447.0,206.6 447.1,200.7 447.3,197.6 447.5,199.8 447.6,200.7 447.8,200.2 448.0,199.5 448.1,201.8 448.3,196.9 448.5,201.4 448.7,203.5 448.8,203.2 449.0,207.2 449.2,198.8 449.3,205.6 449.5,202.9 449.7,200.0 449.8,201.2 450.0,199.6 450.2,197.8 450.4,199.3 450.5,200.2 450.7,200.6 450.9,198.0 451.0,199.0 451.2,198.7 451.4,204.0 451.5,201.2 451.7,202.1 451.9,205.7 452.1,203.8 452.2,200.2 452.4,204.0 452.6,201.6 452.7,200.4 452.9,200.7 453.1,196.3 453.2,199.0 453.4,199.3 453.6,193.1 453.8,197.9 453.9,201.0 454.1,204.3 454.3,198.4 454.4,202.7 454.6,202.9 454.8,199.7 454.9,204.3 455.1,198.0 455.3,202.8 455.5,201.8 455.6,196.3 455.8,200.6 456.0,198.2 456.1,197.7 456.3,199.2 456.5,199.3 456.6,199.3 456.8,197.7 457.0,199.4 457.2,209.4 457.3,201.0 457.5,198.6 457.7,197.6 457.8,198.3 458.0,200.3 458.2,199.4 458.3,202.7 458.5,199.3 458.7,198.7 458.9,195.0 459.0,194.7 459.2,197.6 459.4,198.2 459.5,203.7 459.7,209.9 459.9,198.8 460.0,199.1 460.2,204.4 460.4,200.7 460.6,198.9 460.7,198.7 460.9,200.4 461.1,201.2 461.2,196.4 461.4,197.8 461.6,199.7 461.7,197.2 461.9,199.6 462.1,201.6 462.3,194.8 462.4,200.8 462.6,198.9 462.8,199.2 462.9,197.6 463.1,197.5 463.3,201.2 463.4,202.5 463.6,200.3 463.8,199.6 464.0,196.0 464.1,201.2 464.3,194.9 464.5,191.4 464.6,194.6 464.8,199.2 465.0,195.6 465.1,198.7 465.3,195.4 465.5,203.9 465.7,201.5 465.8,195.9 466.0,199.2 466.2,195.1 466.3,198.6 466.5,198.4 466.7,199.1 466.8,197.9 467.0,195.7 467.2,202.3 467.4,196.3 467.5,198.4 467.7,198.6 467.9,202.3 468.0,199.6 468.2,199.0 468.4,196.6 468.5,197.5 468.7,197.7 468.9,202.7 469.1,197.6 469.2,202.1 469.4,200.4 469.6,201.2 469.7,196.6 469.9,200.1 470.1,197.1 470.2,196.9 470.4,196.6 470.6,199.0 470.8,201.8 470.9,200.2 471.1,199.9 471.3,200.2 471.4,197.1 471.6,197.9 471.8,196.8 471.9,197.0 472.1,200.6 472.3,196.3 472.5,198.0 472.6,195.3 472.8,199.1 473.0,195.5 473.1,197.6 473.3,205.1 473.5,197.0 473.6,195.8 473.8,195.8 474.0,198.4 474.2,200.0 474.3,197.3 474.5,195.3 474.7,195.7 474.8,202.0 475.0,199.5 475.2,198.6 475.3,194.1 475.5,196.7 475.7,198.3 475.9,195.2 476.0,195.8 476.2,200.1 476.4,198.6 476.5,199.8 476.7,200.0 476.9,200.3 477.0,198.7 477.2,197.2 477.4,199.9 477.6,195.7 477.7,197.7 477.9,197.6 478.1,195.9 478.2,197.0 478.4,199.7 478.6,198.2 478.7,201.1 478.9,198.1 479.1,197.8 479.3,199.1 479.4,196.8 479.6,200.3 479.8,200.6 479.9,201.9 480.1,198.8 480.3,196.1 480.4,194.5 480.6,196.4 480.8,198.5 481.0,197.5 481.1,199.1 481.3,199.4 481.5,196.0 481.6,203.5 481.8,199.8 482.0,198.5 482.1,200.1 482.3,199.9 482.5,198.4 482.7,202.7 482.8,195.7 483.0,199.5 483.2,210.1 483.3,200.2 483.5,202.8 483.7,198.7 483.8,198.7 484.0,198.2 484.2,201.5 484.4,198.5 484.5,199.4 484.7,202.7 484.9,201.4 485.0,201.9 485.2,198.9 485.4,196.6 485.5,198.9 485.7,197.4 485.9,199.8 486.1,194.2 486.2,196.8 486.4,199.2 486.6,200.1 486.7,194.9 486.9,198.8 487.1,200.2 487.2,200.2 487.4,199.8 487.6,198.9 487.8,198.9 487.9,199.6 488.1,200.4 488.3,197.8 488.4,198.2 488.6,198.4 488.8,198.8 488.9,199.5 489.1,200.5 489.3,197.7 489.5,201.2 489.6,199.4 489.8,198.8 490.0,201.2 490.1,204.5 490.3,202.5 490.5,198.1 490.6,193.7 490.8,200.0 491.0,195.6 491.2,198.4 491.3,202.8 491.5,196.9 491.7,201.6 491.8,198.1 492.0,201.0 492.2,201.5 492.3,205.7 492.5,200.2 492.7,200.8 492.9,201.8 493.0,202.1 493.2,198.6 493.4,196.7 493.5,200.1 493.7,203.8 493.9,197.7 494.0,199.4 494.2,199.0 494.4,202.1 494.6,203.4 494.7,198.2 494.9,199.6 495.1,202.7 495.2,204.3 495.4,198.8 495.6,196.6 495.7,202.1 495.9,202.1 496.1,198.4 496.3,202.5 496.4,201.5 496.6,197.1 496.8,198.1 496.9,197.8 497.1,209.3 497.3,201.5 497.4,197.8 497.6,199.2 497.8,198.7 498.0,201.2 498.1,202.0 498.3,203.3 498.5,200.6 498.6,201.5 498.8,201.8 499.0,203.4 499.1,201.6 499.3,204.8 499.5,201.0 499.7,197.8 499.8,202.5 500.0,200.0 500.2,199.5 500.3,205.8 500.5,202.9 500.7,198.9 500.8,199.4 501.0,199.3 501.2,200.5 501.4,203.7 501.5,202.6 501.7,202.8 501.9,205.4 502.0,199.7 502.2,205.6 502.4,205.8 502.5,200.5 502.7,199.5 502.9,201.5 503.1,204.8 503.2,200.3 503.4,202.1 503.6,203.0 503.7,203.3 503.9,203.6 504.1,200.0 504.2,201.7 504.4,201.3 504.6,201.1 504.8,203.5 504.9,198.4 505.1,202.5 505.3,205.2 505.4,200.7 505.6,204.9 505.8,202.8 505.9,201.9 506.1,204.6 506.3,206.9 506.5,207.3 506.6,204.4 506.8,208.5 507.0,202.9 507.1,206.4 507.3,203.2 507.5,203.4 507.6,201.7 507.8,200.4 508.0,204.1 508.2,202.2 508.3,201.4 508.5,206.6 508.7,202.9 508.8,199.0 509.0,200.2 509.2,202.4 509.3,203.6 509.5,207.2 509.7,203.5 509.9,204.9 510.0,206.4 510.2,203.3 510.4,201.6 510.5,204.2 510.7,203.9 510.9,201.4 511.0,204.6 511.2,201.0 511.4,205.8 511.6,203.0 511.7,205.4 511.9,204.5 512.1,202.9 512.2,207.5 512.4,203.6 512.6,205.0 512.7,205.8 512.9,203.2 513.1,203.0 513.3,203.7 513.4,201.2 513.6,206.7 513.8,201.7 513.9,204.8 514.1,204.8 514.3,204.3 514.4,203.1 514.6,201.8 514.8,206.1 515.0,202.0 515.1,204.6 515.3,208.5 515.5,210.4 515.6,202.1 515.8,207.7 516.0,204.5 516.1,203.2 516.3,202.8 516.5,206.0 516.7,206.4 516.8,205.7 517.0,205.7 517.2,202.4 517.3,204.7 517.5,202.3 517.7,207.3 517.8,206.5 518.0,205.4 518.2,202.7 518.4,204.1 518.5,207.8 518.7,206.0 518.9,208.0 519.0,206.0 519.2,204.5 519.4,203.8 519.5,205.9 519.7,204.4 519.9,203.0 520.1,202.5 520.2,206.7 520.4,203.1 520.6,213.4 520.7,202.4 520.9,207.6 521.1,213.5 521.2,206.6 521.4,204.7 521.6,205.1 521.8,205.4 521.9,208.6 522.1,207.0 522.3,210.4 522.4,206.0 522.6,202.1 522.8,205.4 522.9,203.5 523.1,205.6 523.3,206.2 523.5,211.8 523.6,209.1 523.8,206.5 524.0,206.9 524.1,206.9 524.3,205.7 524.5,204.9 524.6,203.9 524.8,209.1 525.0,211.7 525.2,203.9 525.3,207.3 525.5,210.1 525.7,208.1 525.8,210.6 526.0,206.7 526.2,206.9 526.3,205.8 526.5,207.9 526.7,205.6 526.9,208.8 527.0,203.8 527.2,211.8 527.4,207.2 527.5,209.0 527.7,205.7 527.9,201.2 528.0,206.1 528.2,208.1 528.4,210.3 528.6,210.5 528.7,206.4 528.9,207.7 529.1,211.3 529.2,208.1 529.4,206.6 529.6,205.3 529.7,208.7 529.9,208.6 530.1,207.2 530.3,209.1 530.4,207.4 530.6,208.2 530.8,207.5 530.9,210.9 531.1,211.7 531.3,207.2 531.4,209.0 531.6,208.5 531.8,203.1 532.0,206.9 532.1,209.5 532.3,209.2 532.5,212.9 532.6,203.5 532.8,209.8 533.0,211.2 533.1,207.8 533.3,206.8 533.5,209.7 533.7,209.6 533.8,209.4 534.0,209.1 534.2,208.7 534.3,211.6 534.5,207.4 534.7,208.3 534.8,208.6 535.0,210.6 535.2,209.9 535.4,208.4 535.5,211.6 535.7,208.4 535.9,210.4 536.0,206.1 536.2,204.5 536.4,204.2 536.5,211.9 536.7,204.7 536.9,211.0 537.1,207.8 537.2,210.7 537.4,210.6 537.6,209.8 537.7,205.2 537.9,210.9 538.1,207.1 538.2,209.3 538.4,208.6 538.6,208.0 538.8,212.9 538.9,207.4 539.1,213.4 539.3,216.0 539.4,211.3 539.6,209.7 539.8,202.2 539.9,207.8 540.1,210.3 540.3,209.3 540.5,207.1 540.6,222.4 540.8,209.4 541.0,214.3 541.1,211.7 541.3,211.1 541.5,212.7 541.6,210.0 541.8,210.0 542.0,212.6 542.2,210.8 542.3,210.1 542.5,209.7 542.7,213.8 542.8,210.7 543.0,210.1 543.2,208.6 543.3,212.3 543.5,211.0 543.7,212.0 543.9,210.3 544.0,210.1 544.2,207.1 544.4,212.6 544.5,212.2 544.7,212.8 544.9,213.2 545.0,217.6 545.2,216.6 545.4,209.5 545.6,214.0 545.7,213.8 545.9,209.8 546.1,209.1 546.2,208.5 546.4,210.3 546.6,215.4 546.7,215.0 546.9,213.7 547.1,213.8 547.3,209.6 547.4,213.5 547.6,211.5 547.8,211.0 547.9,213.8 548.1,213.5 548.3,211.4 548.4,210.6 548.6,210.3 548.8,218.9 549.0,213.3 549.1,212.1 549.3,210.8 549.5,211.9 549.6,216.0 549.8,210.9 550.0,212.7 550.1,211.5 550.3,226.0 550.5,209.7 550.7,215.9 550.8,212.7 551.0,211.5 551.2,210.6 551.3,215.2 551.5,218.2 551.7,213.7 551.8,211.3 552.0,211.9 552.2,210.8 552.4,213.2 552.5,217.2 552.7,213.2 552.9,216.7 553.0,213.0 553.2,211.8 553.4,216.2 553.5,212.8 553.7,209.7 553.9,214.0 554.1,210.0 554.2,216.3 554.4,216.0 554.6,217.1 554.7,209.9 554.9,212.4 555.1,212.7 555.2,214.7 555.4,215.3 555.6,213.6 555.8,217.0 555.9,211.3 556.1,214.1 556.3,218.6 556.4,220.7 556.6,217.5 556.8,211.1 556.9,211.3 557.1,219.4 557.3,210.9 557.5,217.0 557.6,224.4 557.8,212.6 558.0,212.5 558.1,216.4 558.3,210.4 558.5,215.5 558.6,211.9 558.8,214.3 559.0,215.2 559.2,213.9 559.3,217.5 559.5,213.7 559.7,218.7 559.8,215.4 560.0,218.2 560.2,212.4 560.3,224.7 560.5,212.2 560.7,217.5 560.9,212.3 561.0,220.0 561.2,210.0 561.4,211.7 561.5,214.3 561.7,208.4 561.9,215.5 562.0,214.3 562.2,219.6 562.4,209.9 562.6,218.4 562.7,214.9 562.9,219.2 563.1,219.5 563.2,218.4 563.4,221.4 563.6,212.5 563.7,213.5 563.9,220.5 564.1,212.3 564.3,209.5 564.4,221.4 564.6,218.3 564.8,216.7 564.9,213.9 565.1,217.4 565.3,214.1 565.4,212.4 565.6,216.1 565.8,216.6 566.0,211.4 566.1,215.5 566.3,216.3 566.5,214.1 566.6,216.9 566.8,218.9 567.0,208.4 567.1,213.5 567.3,212.9 567.5,214.8 567.6,215.8 567.8,214.4 568.0,213.6 568.2,210.7 568.3,213.7 568.5,221.4 568.7,217.1 568.8,214.7 569.0,222.2 569.2,212.9 569.3,215.4 569.5,213.7 569.7,214.3 569.9,216.3 570.0,211.9 570.2,225.9 570.4,219.2 570.5,220.0 570.7,214.6 570.9,220.6 571.0,218.0 571.2,220.7 571.4,216.9 571.6,219.4 571.7,212.8 571.9,216.5 572.1,208.7 572.2,210.2 572.4,217.7 572.6,216.2 572.7,215.6 572.9,216.1 573.1,212.6 573.3,212.0 573.4,216.5 573.6,217.1 573.8,215.9 573.9,215.7 574.1,220.6 574.3,212.3 574.4,217.8 574.6,213.4 574.8,214.6 575.0,218.7 575.1,210.2 575.3,221.8 575.5,216.0 575.6,215.2 575.8,217.0 576.0,215.6 576.1,219.3 576.3,212.0 576.5,219.4 576.7,221.4 576.8,227.2 577.0,222.5 577.2,213.3 577.3,216.4 577.5,215.7 577.7,220.0 577.8,217.1 578.0,218.4 578.2,216.7 578.4,216.2 578.5,215.9 578.7,216.0 578.9,217.2 579.0,214.3 579.2,218.8 579.4,217.8 579.5,213.7 579.7,215.4 579.9,216.7 580.1,217.0 580.2,214.5 580.4,212.3 580.6,214.5 580.7,216.2 580.9,219.3 581.1,213.2 581.2,219.8 581.4,217.7 581.6,219.8 581.8,218.2 581.9,217.9 582.1,216.4 582.3,214.1 582.4,214.4 582.6,216.5 582.8,213.2 582.9,212.3 583.1,216.9 583.3,218.5 583.5,218.7 583.6,212.5 583.8,217.6 584.0,213.5 584.1,219.9 584.3,234.3 584.5,215.9 584.6,214.1 584.8,217.9 585.0,212.8 585.2,216.4 585.3,211.0 585.5,216.2 585.7,218.6 585.8,213.1 586.0,216.1 586.2,219.1 586.3,221.9 586.5,219.7 586.7,215.6 586.9,216.8 587.0,215.9 587.2,218.8 587.4,217.2 587.5,218.9 587.7,221.7 587.9,215.6 588.0,237.6 588.2,218.2 588.4,216.0 588.6,218.9 588.7,211.3 588.9,212.9 589.1,215.8 589.2,216.9 589.4,214.6 589.6,221.6 589.7,218.2 589.9,217.8 590.1,216.2 590.3,213.4 590.4,216.6 590.6,216.4 590.8,220.8 590.9,215.8 591.1,218.2 591.3,214.9 591.4,212.4 591.6,220.2 591.8,217.6 592.0,219.2 592.1,216.1 592.3,216.1 592.5,221.3 592.6,213.9 592.8,221.2 593.0,217.1 593.1,217.2 593.3,218.1 593.5,214.8 593.7,217.9 593.8,217.0 594.0,219.6 594.2,219.6 594.3,215.2 594.5,222.2 594.7,214.4 594.8,223.3 595.0,215.7 595.2,214.6 595.4,219.2 595.5,216.4 595.7,217.8 595.9,222.0 596.0,217.9 596.2,213.7 596.4,223.9 596.5,219.0 596.7,223.6 596.9,219.2 597.1,219.4 597.2,221.0 597.4,215.1 597.6,213.0 597.7,219.4 597.9,215.0 598.1,215.0 598.2,215.8 598.4,216.4 598.6,221.2 598.8,216.3 598.9,219.3 599.1,219.6 599.3,226.5 599.4,218.6 599.6,217.3 599.8,216.0 599.9,221.1 600.1,222.4 600.3,224.2 600.5,218.1 600.6,223.8 600.8,220.6 601.0,220.8 601.1,219.3 601.3,217.2 601.5,224.2 601.6,220.1 601.8,217.5 602.0,216.6 602.2,220.1 602.3,216.6 602.5,217.8 602.7,216.1 602.8,224.1 603.0,227.2 603.2,213.2 603.3,219.1 603.5,216.3 603.7,209.9 603.9,212.2 604.0,221.8 604.2,219.4 604.4,214.7 604.5,218.4 604.7,219.2 604.9,222.6 605.0,217.1 605.2,217.3 605.4,217.7 605.6,220.1 605.7,216.9 605.9,220.0 606.1,219.5 606.2,223.1 606.4,214.0 606.6,214.1 606.7,221.7 606.9,219.6 607.1,218.1 607.3,221.8 607.4,219.6 607.6,217.3 607.8,223.8 607.9,220.1 608.1,216.5 608.3,220.9 608.4,220.4 608.6,219.3 608.8,217.4 609.0,221.7 609.1,214.6 609.3,215.5 609.5,218.3 609.6,218.0 609.8,221.8 610.0,214.1 610.1,221.8 610.3,222.6 610.5,221.7 610.7,223.9 610.8,213.9 611.0,224.1 611.2,222.2 611.3,220.0 611.5,214.2 611.7,222.0 611.8,219.9 612.0,226.0 612.2,225.8 612.4,217.8 612.5,220.7 612.7,223.3 612.9,219.5 613.0,220.4 613.2,220.1 613.4,219.0 613.5,217.6 613.7,219.5 613.9,213.8 614.1,220.3 614.2,217.8 614.4,218.2 614.6,218.8 614.7,218.5 614.9,218.1 615.1,223.4 615.2,216.3 615.4,216.5 615.6,216.5 615.8,219.7 615.9,216.7 616.1,221.2 616.3,234.8 616.4,219.8 616.6,219.2 616.8,219.5 616.9,220.7 617.1,223.4 617.3,218.1 617.5,221.2 617.6,223.0 617.8,219.2 618.0,216.2 618.1,214.6 618.3,222.7 618.5,219.7 618.6,218.0 618.8,219.9 619.0,219.7 619.2,215.9 619.3,230.9 619.5,215.2 619.7,217.3 619.8,219.1 620.0,218.6 620.2,223.0 620.3,220.9 620.5,221.5 620.7,217.4 620.9,225.9 621.0,222.5 621.2,218.4 621.4,214.0 621.5,219.2 621.7,219.6 621.9,234.1 622.0,222.3 622.2,223.6 622.4,224.6 622.6,214.0 622.7,220.7 622.9,225.1 623.1,215.1 623.2,215.8 623.4,223.3 623.6,217.9 623.7,239.3 623.9,217.4 624.1,221.7 624.3,225.7 624.4,215.6 624.6,215.0 624.8,221.6 624.9,218.1 625.1,215.3 625.3,213.9 625.4,217.3 625.6,216.6 625.8,214.6 626.0,220.7 626.1,218.0 626.3,215.9 626.5,217.2 626.6,229.7 626.8,220.8 627.0,224.5 627.1,220.4 627.3,216.0 627.5,220.8 627.7,224.2 627.8,213.9 628.0,221.6 628.2,218.5 628.3,220.3 628.5,213.6 628.7,217.7 628.8,217.5 629.0,220.7 629.2,216.6 629.4,221.2 629.5,211.1 629.7,215.9 629.9,217.7 630.0,210.9 630.2,212.6 630.4,219.5 630.5,215.5 630.7,212.2 630.9,219.0 631.1,217.2 631.2,221.0 631.4,219.8 631.6,218.5 631.7,214.5 631.9,216.4 632.1,216.5 632.2,215.2 632.4,222.7 632.6,225.1 632.8,217.4 632.9,216.6 633.1,224.5 633.3,220.3 633.4,214.4 633.6,215.0 633.8,222.4 633.9,217.9 634.1,220.6 634.3,217.7 634.5,210.6 634.6,218.8 634.8,220.8 635.0,219.2 635.1,216.3 635.3,217.2 635.5,217.4 635.6,213.8 635.8,214.0 636.0,223.9 636.2,214.9 636.3,222.2 636.5,224.8 636.7,217.2 636.8,216.6 637.0,221.1 637.2,215.9 637.3,214.4 637.5,215.1 637.7,218.8 637.9,216.0 638.0,226.9 638.2,216.3 638.4,220.2 638.5,215.1 638.7,224.9 638.9,220.6 639.0,214.8 639.2,222.0 639.4,214.5 639.6,215.6 639.7,216.0 639.9,221.0 640.1,216.5 640.2,217.5 640.4,220.6 640.6,219.3 640.7,218.8 640.9,214.0 641.1,218.8 641.3,216.7 641.4,213.1 641.6,221.1 641.8,227.9 641.9,218.6 642.1,222.3 642.3,223.9 642.4,219.6 642.6,220.6 642.8,214.3 643.0,217.2 643.1,220.6 643.3,222.1 643.5,221.7 643.6,215.3 643.8,218.6 644.0,218.3 644.1,215.2 644.3,212.6 644.5,220.3 644.7,222.8 644.8,223.4 645.0,217.6 645.2,218.9 645.3,220.6 645.5,210.5 645.7,216.6 645.8,211.5 646.0,215.1 646.2,218.0 646.4,219.2 646.5,216.4 646.7,217.7 646.9,221.0 647.0,223.8 647.2,221.4 647.4,220.7 647.5,222.4 647.7,214.6 647.9,216.6 648.1,216.3 648.2,220.4 648.4,216.4 648.6,220.4 648.7,214.9 648.9,218.2 649.1,216.6 649.2,214.3 649.4,215.3 649.6,216.2 649.8,214.5 649.9,215.7 650.1,215.5 650.3,218.0 650.4,219.0 650.6,213.0 650.8,211.6 650.9,216.1 651.1,216.9 651.3,217.4 651.5,214.5 651.6,215.0 651.8,212.6 652.0,218.5 652.1,217.0 652.3,217.3 652.5,213.5 652.6,213.4 652.8,215.2 653.0,221.3 653.2,215.6 653.3,221.0 653.5,219.6 653.7,218.0 653.8,216.5 654.0,215.2 654.2,215.3 654.3,216.8 654.5,217.3 654.7,213.7 654.9,217.6 655.0,219.7 655.2,215.0 655.4,219.5 655.5,215.0 655.7,214.0 655.9,219.5 656.0,221.3 656.2,216.2 656.4,217.3 656.6,221.7 656.7,219.0 656.9,217.3 657.1,213.1 657.2,217.1 657.4,219.4 657.6,218.5 657.7,221.5 657.9,218.4 658.1,225.2 658.3,217.2 658.4,216.7 658.6,218.0 658.8,213.6 658.9,219.9 659.1,216.9 659.3,215.6 659.4,212.0 659.6,215.6 659.8,216.5 660.0,212.9 660.1,215.6 660.3,220.3 660.5,210.1 660.6,215.1 660.8,212.5 661.0,212.8 661.1,214.2 661.3,215.1 661.5,216.6 661.7,215.9 661.8,217.5 662.0,213.3 662.2,216.8 662.3,228.8 662.5,217.5 662.7,215.0 662.8,215.9 663.0,214.9 663.2,213.0 663.4,218.6 663.5,214.9 663.7,221.5 663.9,216.7 664.0,222.8 664.2,215.3 664.4,219.0 664.5,218.0 664.7,220.3 664.9,214.4 665.1,213.7 665.2,211.5 665.4,220.9 665.6,217.6 665.7,222.0 665.9,217.0 666.1,219.1 666.2,210.8 666.4,214.0 666.6,212.1 666.8,218.0 666.9,214.5 667.1,213.9 667.3,215.7 667.4,218.7 667.6,220.1 667.8,209.2 667.9,218.1 668.1,208.2 668.3,219.0 668.5,215.8 668.6,211.7 668.8,217.0 669.0,215.5 669.1,214.6 669.3,218.2 669.5,215.2 669.6,215.9 669.8,217.8 670.0,214.7 670.2,212.6 670.3,212.8 670.5,214.6 670.7,216.0 670.8,223.3 671.0,213.3 671.2,221.1 671.3,219.2 671.5,210.6 671.7,215.6 671.9,217.4 672.0,216.0 672.2,213.7 672.4,211.1 672.5,214.5 672.7,220.2 672.9,213.0 673.0,218.3 673.2,218.2 673.4,214.3 673.6,216.1 673.7,213.9 673.9,218.9 674.1,218.6 674.2,214.5 674.4,215.6 674.6,207.5 674.7,213.1 674.9,215.4 675.1,210.3 675.3,211.1 675.4,212.1 675.6,217.7 675.8,211.5 675.9,215.6 676.1,214.4 676.3,219.0 676.4,211.0 676.6,215.9 676.8,217.3 677.0,218.6 677.1,215.8 677.3,215.1 677.5,212.5" stroke="#7d92aa" stroke-width="1.4" fill="none" stroke-linejoin="round" stroke-linecap="round"/>
</g>
<path d="M59.50 525.50L59.50 515.50M59.50 314.50L59.50 324.50M80.45 525.50L80.45 521.00M80.45 314.50L80.45 319.00M101.40 525.50L101.40 521.00M101.40 314.50L101.40 319.00M122.35 525.50L122.35 521.00M122.35 314.50L122.35 319.00M143.30 525.50L143.30 521.00M143.30 314.50L143.30 319.00M164.25 525.50L164.25 515.50M164.25 314.50L164.25 324.50M185.20 525.50L185.20 521.00M185.20 314.50L185.20 319.00M206.15 525.50L206.15 521.00M206.15 314.50L206.15 319.00M227.10 525.50L227.10 521.00M227.10 314.50L227.10 319.00M248.05 525.50L248.05 521.00M248.05 314.50L248.05 319.00M269.00 525.50L269.00 515.50M269.00 314.50L269.00 324.50M59.50 511.30L69.50 511.30M269.50 511.30L259.50 511.30M59.50 498.18L64.50 498.18M269.50 498.18L264.50 498.18M59.50 485.06L64.50 485.06M269.50 485.06L264.50 485.06M59.50 471.94L64.50 471.94M269.50 471.94L264.50 471.94M59.50 458.82L64.50 458.82M269.50 458.82L264.50 458.82M59.50 445.70L69.50 445.70M269.50 445.70L259.50 445.70M59.50 432.58L64.50 432.58M269.50 432.58L264.50 432.58M59.50 419.46L64.50 419.46M269.50 419.46L264.50 419.46M59.50 406.34L64.50 406.34M269.50 406.34L264.50 406.34M59.50 393.22L64.50 393.22M269.50 393.22L264.50 393.22M59.50 380.10L69.50 380.10M269.50 380.10L259.50 380.10M59.50 366.98L64.50 366.98M269.50 366.98L264.50 366.98M59.50 353.86L64.50 353.86M269.50 353.86L264.50 353.86M59.50 340.74L64.50 340.74M269.50 340.74L264.50 340.74M59.50 327.62L64.50 327.62M269.50 327.62L264.50 327.62M59.50 314.50L69.50 314.50M269.50 314.50L259.50 314.50" stroke="#858585" stroke-width="1" fill="none"/>
<rect x="59.50" y="314.50" width="210.00" height="211.00" fill="none" stroke="#858585" stroke-width="1"/>
<text x="54.4" y="516.9" font-size="16" text-anchor="end">0</text>
<text x="54.4" y="451.3" font-size="16" text-anchor="end">10</text>
<text x="54.4" y="385.7" font-size="16" text-anchor="end">20</text>
<text x="54.4" y="320.1" font-size="16" text-anchor="end">30</text>
<text x="54.7" y="544.3" font-size="16">0</text>
<text x="160.1" y="544.3" font-size="16">5</text>
<text x="262.0" y="544.3" font-size="16">10</text>
<text x="86.7" y="572.3" font-size="15.7">Switching Field (MV/cm)</text>
<text x="17.4" y="420.3" font-size="15.5" text-anchor="middle" transform="rotate(-90 17.4 420.3)">2P<tspan font-size="10" dy="3.5">r</tspan><tspan dy="-3.5"> (μC/cm</tspan><tspan font-size="10" dy="-5.5">2</tspan><tspan dy="5.5">)</tspan></text>
<path d="M101.4,511.3 122.3,510.3 143.3,508.7 164.2,494.9 185.2,483.1 206.2,434.5 227.1,398.5 248.0,386.7" stroke="#2e4394" stroke-width="1.2" fill="none" stroke-linejoin="round" stroke-linecap="round"/>
<path d="M206.15 430.61L206.15 438.48M204.15 430.61L208.15 430.61M204.15 438.48L208.15 438.48" stroke="#2e4394" stroke-width="1" fill="none"/>
<path d="M227.10 392.89L227.10 404.04M225.10 392.89L229.10 392.89M225.10 404.04L229.10 404.04" stroke="#2e4394" stroke-width="1" fill="none"/>
<path d="M248.05 380.10L248.05 393.22M246.05 380.10L250.05 380.10M246.05 393.22L250.05 393.22" stroke="#2e4394" stroke-width="1" fill="none"/>
<circle cx="101.40" cy="511.30" r="2.7" fill="#2e4394"/>
<circle cx="122.35" cy="510.32" r="2.7" fill="#2e4394"/>
<circle cx="143.30" cy="508.68" r="2.7" fill="#2e4394"/>
<circle cx="164.25" cy="494.90" r="2.7" fill="#2e4394"/>
<circle cx="185.20" cy="483.09" r="2.7" fill="#2e4394"/>
<circle cx="206.15" cy="434.55" r="2.7" fill="#2e4394"/>
<circle cx="227.10" cy="398.47" r="2.7" fill="#2e4394"/>
<circle cx="248.05" cy="386.66" r="2.7" fill="#2e4394"/>
<line x1="79.10" y1="349.70" x2="106.80" y2="349.70" stroke="#7f8fca" stroke-width="1.2"/>
<circle cx="93" cy="349.8" r="5" fill="#2e4394"/>
<text x="112.5" y="354.5" font-size="14.7">5 nm</text>
<path d="M353.50 308.50L353.50 316.00M353.50 419.50L353.50 412.00M353.50 530.50L353.50 523.00M364.33 308.50L364.33 312.30M364.33 419.50L364.33 415.70M364.33 530.50L364.33 526.70M375.17 308.50L375.17 316.00M375.17 419.50L375.17 412.00M375.17 530.50L375.17 523.00M386.00 308.50L386.00 312.30M386.00 419.50L386.00 415.70M386.00 530.50L386.00 526.70M396.83 308.50L396.83 316.00M396.83 419.50L396.83 412.00M396.83 530.50L396.83 523.00M407.67 308.50L407.67 312.30M407.67 419.50L407.67 415.70M407.67 530.50L407.67 526.70M418.50 308.50L418.50 316.00M418.50 419.50L418.50 412.00M418.50 530.50L418.50 523.00M429.33 308.50L429.33 312.30M429.33 419.50L429.33 415.70M429.33 530.50L429.33 526.70M440.17 308.50L440.17 316.00M440.17 419.50L440.17 412.00M440.17 530.50L440.17 523.00M451.00 308.50L451.00 312.30M451.00 419.50L451.00 415.70M451.00 530.50L451.00 526.70M461.83 308.50L461.83 316.00M461.83 419.50L461.83 412.00M461.83 530.50L461.83 523.00M472.67 308.50L472.67 312.30M472.67 419.50L472.67 415.70M472.67 530.50L472.67 526.70M483.50 308.50L483.50 316.00M483.50 419.50L483.50 412.00M483.50 530.50L483.50 523.00M353.50 400.70L361.00 400.70M483.50 400.70L476.00 400.70M353.50 382.10L357.50 382.10M483.50 382.10L479.50 382.10M353.50 363.50L361.00 363.50M483.50 363.50L476.00 363.50M353.50 344.90L357.50 344.90M483.50 344.90L479.50 344.90M353.50 326.30L361.00 326.30M483.50 326.30L476.00 326.30" stroke="#6e6e6e" stroke-width="1" fill="none"/>
<rect x="353.50" y="308.50" width="130.00" height="222.00" fill="none" stroke="#6e6e6e" stroke-width="1"/>
<line x1="353.50" y1="419.50" x2="483.50" y2="419.50" stroke="#6e6e6e" stroke-width="1"/>
<text x="327.5" y="332.8" font-size="16">200</text>
<text x="327.2" y="369.5" font-size="16">100</text>
<text x="338.7" y="406.8" font-size="16">0</text>
<text x="345.6" y="544.6" font-size="16">-3</text>
<text x="415.4" y="544.7" font-size="16">0</text>
<text x="478.9" y="544.6" font-size="16">3</text>
<text x="394.9" y="561.8" font-size="15.7">Bias (V)</text>
<text x="440.0" y="332.3" font-size="15.7">1 nm</text>
<text x="320.6" y="384.1" font-size="15.7" transform="rotate(-90 320.6 384.1)">Phase (º)</text>
<text x="320.3" y="527.4" font-size="15.7" transform="rotate(-90 320.3 527.4)">Amp. (arb.units)</text>
<clipPath id="cpD1"><rect x="353.5" y="308.5" width="130" height="111"/></clipPath>
<clipPath id="cpD2"><rect x="353.5" y="419.5" width="131.5" height="111"/></clipPath>
<path d="M353.8,317.2 C358,316.8 362,315.6 365.8,315.8 C368,316 369,316.2 369.6,317 C371.5,322 373.5,335 375.7,354.7 C377.5,372 379,386 381,394 C382,398 383,398.5 384.2,398 C386,397 387.5,395 390,393.6 C395,391.2 400,390.2 405,389.8 C415,389.2 425,389 440,388.8 C455,388.8 470,389.2 485,389.4 M369.6,317 C375,316.6 380,315.8 384,315 C390,313.8 395,313.2 398.5,311.8 C400.5,310.8 402,309.8 403.4,310 C405.5,310.5 406.8,312 407.6,314.5 C409.5,322 412.5,335 415.5,350 C417.5,362 419.5,376 420.7,387.6 C421.5,394 422.3,399 423.6,401 C424.8,402.5 426,400.5 427.5,398 C429.5,394.5 432,392 435,390.8 C438,389.6 441,389.2 444,389" stroke="#c93a4a" stroke-width="3" fill="none" stroke-linecap="round" stroke-linejoin="round" clip-path="url(#cpD1)"/>
<path d="M354.2,492 C357,491.4 359.5,491 361.4,491.3 C364,491.8 366,493 368,494 C370,494.8 372,494.6 374,494.3 C376,494 378,494 380,494.5 C384,495.3 388,496.5 391,497.4 C395,498.6 398,499.6 402,500.8 C406,502.2 409,503.6 412,504.4 C415,505.2 417,505.6 419.4,505.6 C422,505.5 424,504.5 426,502.9 C429,500 432,496 436,490.8 C441,484.5 446,480 450.1,476.6 C455,472 459,467.5 463.2,463.5 C468,459 472,456 476.4,453.6 C479,452.4 481,452 483.4,452.4 M354.2,492 C358,494.5 362,497.5 366.9,500 C370,501.6 373,503.6 376.7,504 C379.5,504.2 382,502.6 384.4,501.2 C387,499.5 390,496.8 393.2,494.2 C397,491 400.5,487.6 404.1,485.4 C408,483 411.5,481.6 415,480 C419,478.2 423,475.5 428.2,472.6 C432,470.5 435.5,469.3 439.2,467.8 C443,466.2 446.5,464.2 450.1,462.4 C455,460 459,458.2 463.2,456.5 C467,455 470.5,453 474.2,451.6 C477,450.6 479.5,450.4 481.5,451 C482.5,451.5 483.5,452.2 484.5,452.8" stroke="#2f4597" stroke-width="3" fill="none" stroke-linecap="round" stroke-linejoin="round" clip-path="url(#cpD2)"/>
<circle cx="483.4" cy="452.4" r="2.3" fill="#2f4597"/>
<filter id="fph" x="539" y="310" width="100" height="100" filterUnits="userSpaceOnUse" color-interpolation-filters="sRGB">
<feGaussianBlur in="SourceGraphic" stdDeviation="1.6" result="m"/>
<feTurbulence type="fractalNoise" baseFrequency="0.63" numOctaves="2" seed="5" result="ta"/>
<feTurbulence type="fractalNoise" baseFrequency="0.89" numOctaves="2" seed="8" result="tb"/>
<feComposite in="ta" in2="tb" operator="arithmetic" k2="0.5" k3="0.5" result="t"/>
<feColorMatrix in="t" type="matrix" values="1 0 0 0 0 1 0 0 0 0 1 0 0 0 0 0 0 0 0 1" result="n0"/>
<feConvolveMatrix in="n0" order="3" kernelMatrix="0 1 0 1 4 1 0 1 0" divisor="8" preserveAlpha="true" result="n"/>
<feComposite in="m" in2="n" operator="arithmetic" k1="0" k2="1" k3="2.0" k4="-1.000" result="v"/>
<feComponentTransfer in="v"><feFuncR type="table" tableValues="0.541 0.552 0.562 0.573 0.584 0.594 0.605 0.615 0.626 0.636 0.647 0.656 0.665 0.674 0.683 0.692 0.701 0.710 0.719 0.728 0.737 0.744 0.751 0.757 0.764 0.771 0.777 0.784 0.791 0.797 0.804 0.811 0.817 0.824 0.831 0.837 0.844 0.851 0.857 0.864 0.871 0.875 0.880 0.885 0.890 0.895 0.900 0.905 0.910 0.918 0.925 0.800 0.675 0.649 0.624 0.598 0.573 0.547 0.522 0.496 0.471 0.456 0.442 0.428 0.414 0.400 0.386 0.372 0.358 0.344 0.329 0.322 0.314 0.306 0.298 0.290 0.282 0.275 0.267 0.259 0.251 0.245 0.240 0.235 0.229 0.224 0.218 0.213 0.207 0.202 0.196 0.192 0.188 0.184 0.180 0.176 0.173 0.169 0.165 0.161 0.157"/><feFuncG type="table" tableValues="0.078 0.088 0.098 0.108 0.118 0.127 0.137 0.147 0.157 0.167 0.176 0.188 0.200 0.212 0.224 0.235 0.247 0.259 0.271 0.282 0.294 0.308 0.322 0.335 0.349 0.363 0.376 0.390 0.404 0.418 0.431 0.447 0.463 0.478 0.494 0.510 0.525 0.541 0.557 0.573 0.588 0.604 0.620 0.635 0.651 0.667 0.682 0.698 0.714 0.800 0.886 0.847 0.808 0.793 0.777 0.762 0.747 0.732 0.717 0.701 0.686 0.671 0.656 0.640 0.625 0.610 0.595 0.579 0.564 0.549 0.533 0.519 0.505 0.491 0.477 0.463 0.449 0.435 0.420 0.406 0.392 0.382 0.372 0.362 0.351 0.341 0.331 0.321 0.311 0.300 0.290 0.283 0.276 0.269 0.262 0.255 0.248 0.241 0.234 0.227 0.220"/><feFuncB type="table" tableValues="0.157 0.163 0.169 0.175 0.180 0.186 0.192 0.198 0.204 0.210 0.216 0.221 0.226 0.231 0.236 0.241 0.246 0.251 0.256 0.262 0.267 0.276 0.285 0.295 0.304 0.314 0.323 0.333 0.342 0.351 0.361 0.375 0.389 0.403 0.417 0.431 0.445 0.460 0.474 0.488 0.502 0.521 0.539 0.558 0.576 0.595 0.614 0.632 0.651 0.769 0.886 0.894 0.902 0.895 0.887 0.880 0.873 0.865 0.858 0.850 0.843 0.835 0.827 0.818 0.810 0.802 0.794 0.785 0.777 0.769 0.761 0.751 0.740 0.730 0.720 0.710 0.700 0.689 0.679 0.669 0.659 0.649 0.638 0.628 0.618 0.608 0.598 0.587 0.577 0.567 0.557 0.548 0.540 0.531 0.522 0.514 0.505 0.496 0.488 0.479 0.471"/><feFuncA type="linear" slope="0" intercept="1"/></feComponentTransfer>
</filter>
<filter id="fam" x="539" y="437" width="100" height="100" filterUnits="userSpaceOnUse" color-interpolation-filters="sRGB">
<feGaussianBlur in="SourceGraphic" stdDeviation="2" result="m"/>
<feTurbulence type="fractalNoise" baseFrequency="0.63" numOctaves="2" seed="9" result="ta"/>
<feTurbulence type="fractalNoise" baseFrequency="0.89" numOctaves="2" seed="12" result="tb"/>
<feComposite in="ta" in2="tb" operator="arithmetic" k2="0.5" k3="0.5" result="t"/>
<feColorMatrix in="t" type="matrix" values="1 0 0 0 0 1 0 0 0 0 1 0 0 0 0 0 0 0 0 1" result="n0"/>
<feConvolveMatrix in="n0" order="3" kernelMatrix="0 1 0 1 4 1 0 1 0" divisor="8" preserveAlpha="true" result="n"/>
<feComposite in="m" in2="n" operator="arithmetic" k1="0" k2="1" k3="3.1" k4="-1.550" result="v"/>
<feComponentTransfer in="v"><feFuncA type="linear" slope="0" intercept="1"/></feComponentTransfer>
</filter>
<linearGradient id="phb" x1="0" y1="0" x2="0" y2="1"><stop offset="0.000" stop-color="rgb(40,56,120)"/><stop offset="0.100" stop-color="rgb(52,72,140)"/><stop offset="0.200" stop-color="rgb(68,98,164)"/><stop offset="0.300" stop-color="rgb(90,140,192)"/><stop offset="0.400" stop-color="rgb(126,188,216)"/><stop offset="0.470" stop-color="rgb(214,232,240)"/><stop offset="0.500" stop-color="rgb(246,246,246)"/><stop offset="0.530" stop-color="rgb(240,226,220)"/><stop offset="0.600" stop-color="rgb(222,174,158)"/><stop offset="0.700" stop-color="rgb(200,118,98)"/><stop offset="0.800" stop-color="rgb(180,72,68)"/><stop offset="0.900" stop-color="rgb(158,40,52)"/><stop offset="1.000" stop-color="rgb(138,20,40)"/></linearGradient>
<linearGradient id="amb" x1="0" y1="0" x2="0" y2="1"><stop offset="0" stop-color="#f4f4f4"/><stop offset="1" stop-color="#050505"/></linearGradient>
<linearGradient id="inG" x1="0" y1="0" x2="1" y2="1"><stop offset="0" stop-color="rgb(184,184,184)"/><stop offset="1" stop-color="rgb(150,150,150)"/></linearGradient><g filter="url(#fph)"><rect x="530" y="300" width="120" height="120" fill="rgb(143,143,143)"/><rect x="530" y="300" width="120" height="38" fill="rgb(184,184,184)"/><rect x="530" y="300" width="22" height="40" fill="rgb(199,199,199)"/><rect x="622" y="300" width="30" height="44" fill="rgb(196,196,196)"/><rect x="530" y="338" width="11" height="10" fill="rgb(107,107,107)"/><rect x="622" y="346" width="30" height="46" fill="rgb(125,125,125)"/><rect x="530" y="387" width="120" height="11" fill="rgb(128,128,128)"/><rect x="530" y="400" width="120" height="20" fill="rgb(153,153,153)"/><rect x="555" y="324" width="68" height="65" fill="rgb(112,112,112)"/><rect x="558.4" y="327.2" width="61" height="58.1" fill="rgb(64,64,64)"/><rect x="572.5" y="341.2" width="32.1" height="30" fill="url(#inG)"/></g>
<rect x="558.4" y="327.2" width="61" height="58.1" fill="none" stroke="#fff" stroke-width="1.5"/>
<rect x="572.5" y="341.2" width="32.1" height="30" fill="none" stroke="#fff" stroke-width="1.5"/>
<rect x="542.5" y="403.5" width="27.7" height="2" fill="#fff"/>
<rect x="649" y="320" width="8.8" height="81" fill="url(#phb)"/>
<text x="569.9" y="308.8" font-size="15.7">Phase</text>
<text x="642.1" y="316.8" font-size="14.6">130º</text>
<text x="649.2" y="413.1" font-size="14.8">0º</text>
<g filter="url(#fam)"><rect x="530" y="430" width="120" height="120" fill="rgb(122,122,122)"/><rect x="530" y="430" width="22" height="36" fill="rgb(140,140,140)"/><rect x="600" y="470" width="40" height="25" fill="rgb(128,128,128)"/><rect x="633" y="430" width="20" height="110" fill="rgb(76,76,76)"/><circle cx="590" cy="485" r="20" fill="none" stroke="rgb(80,80,80)" stroke-width="4"/></g>
<rect x="541.3" y="529" width="27.4" height="2" fill="#fff"/>
<rect x="650" y="448.7" width="7" height="75.7" fill="url(#amb)"/>
<text x="553.7" y="431.7" font-size="15.7">Amplitude</text>
<text x="646.5" y="443.0" font-size="14.6">60</text>
<text x="649.9" y="538.1" font-size="15.2">0</text>
</svg></body></html>
